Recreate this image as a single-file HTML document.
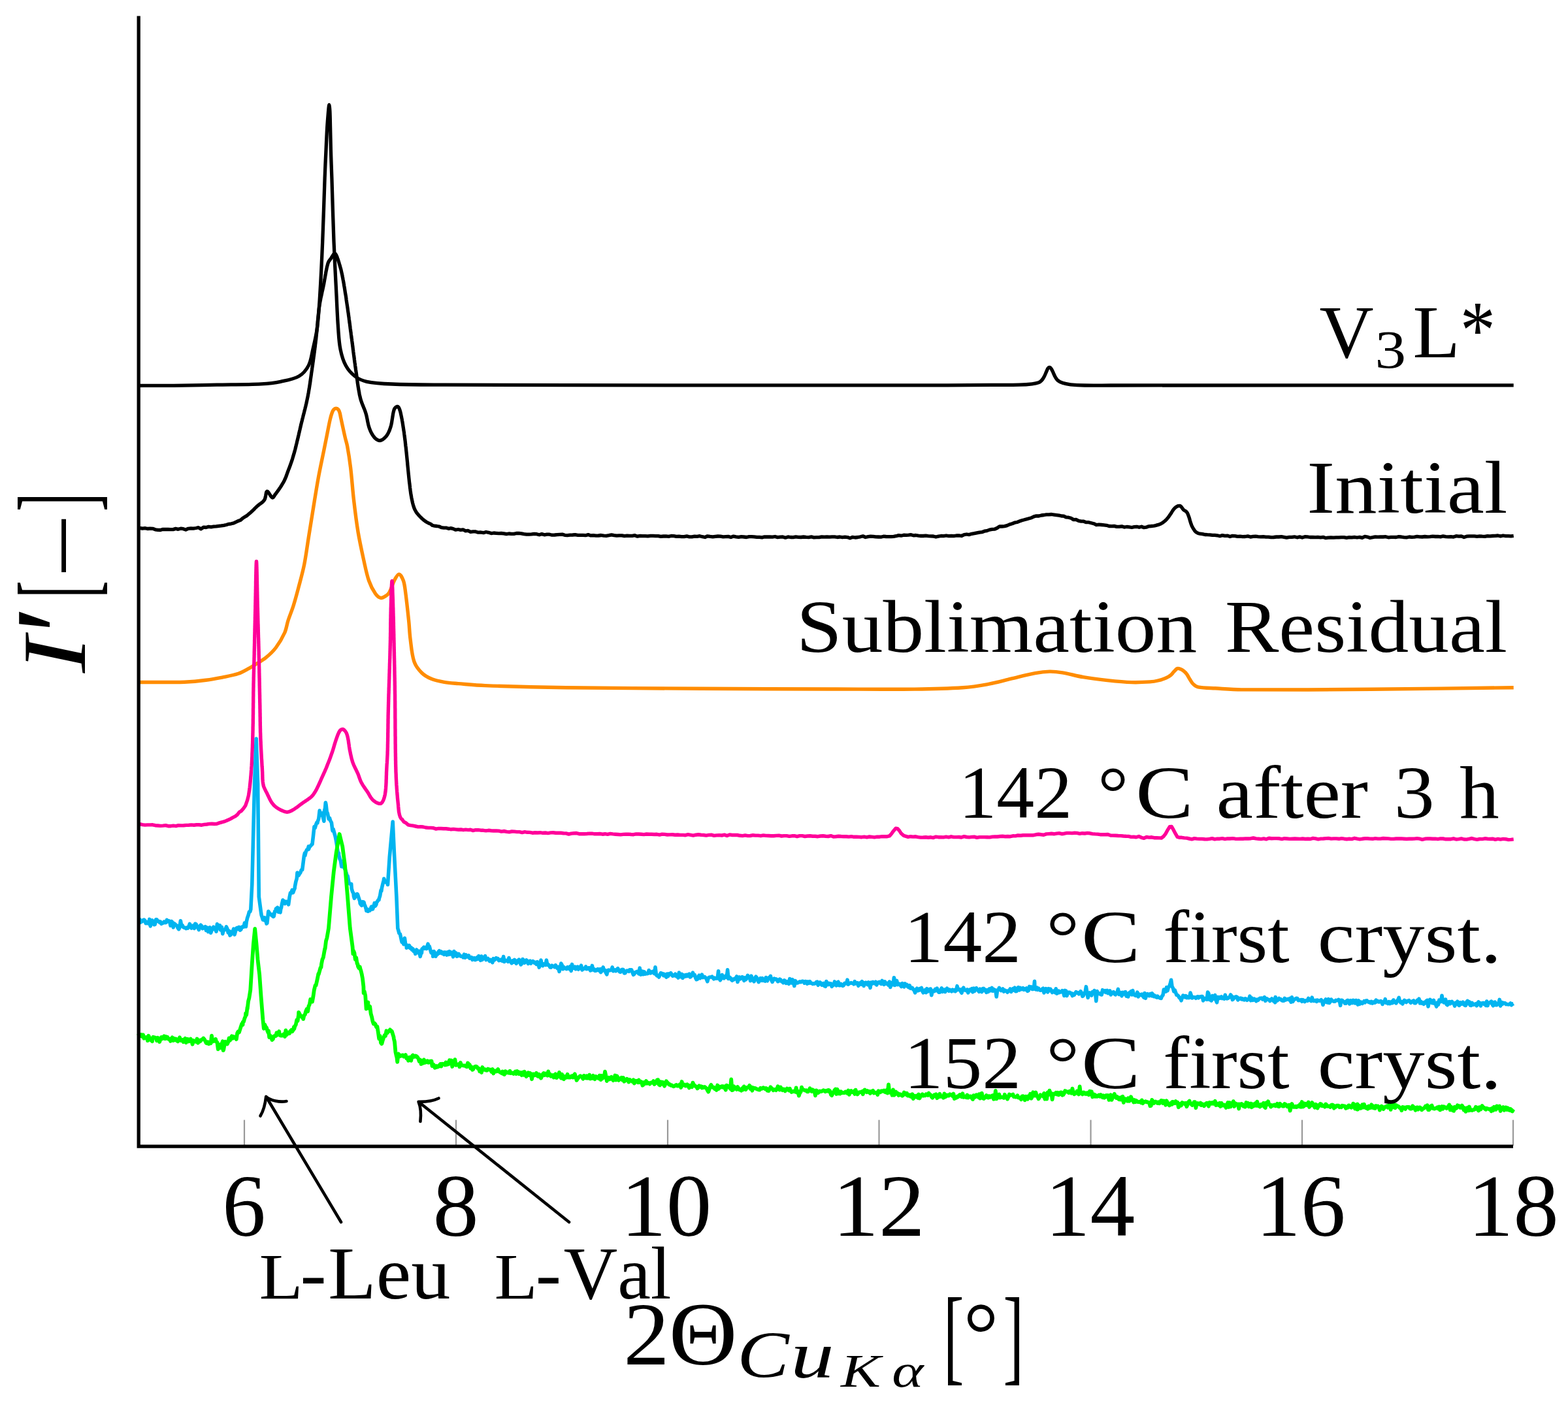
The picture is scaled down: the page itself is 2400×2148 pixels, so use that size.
<!DOCTYPE html>
<html><head><meta charset="utf-8"><title>XRD patterns</title><style>html,body{margin:0;padding:0;background:#fff;overflow:hidden;}svg{display:block;filter:blur(0.6px);}text{font-kerning:none;}</style></head><body>
<svg width="2400" height="2148" viewBox="0 0 2400 2148">
<rect width="2400" height="2148" fill="#fff"/>
<line x1="374.0" y1="1714.6" x2="374.0" y2="1754" stroke="#999" stroke-width="2.2"/>
<line x1="698.0" y1="1714.6" x2="698.0" y2="1754" stroke="#999" stroke-width="2.2"/>
<line x1="1022.0" y1="1714.6" x2="1022.0" y2="1754" stroke="#999" stroke-width="2.2"/>
<line x1="1345.5" y1="1714.6" x2="1345.5" y2="1754" stroke="#999" stroke-width="2.2"/>
<line x1="1669.5" y1="1714.6" x2="1669.5" y2="1754" stroke="#999" stroke-width="2.2"/>
<line x1="1993.0" y1="1714.6" x2="1993.0" y2="1754" stroke="#999" stroke-width="2.2"/>
<line x1="2316.0" y1="1714.6" x2="2316.0" y2="1754" stroke="#999" stroke-width="2.2"/>
<path d="M212.0,590.3 C230.0,590.3 248.0,590.5 266.0,590.3 C288.0,590.1 310.0,589.5 332.0,589.1 C354.7,588.7 377.4,588.9 400.0,587.8 C409.8,587.3 419.8,586.3 429.4,584.3 C438.9,582.3 449.3,580.7 457.5,576.0 C463.6,572.5 469.0,566.0 472.3,559.6 C476.1,552.2 477.0,543.1 478.9,534.8 C481.4,523.9 484.1,513.0 485.5,501.9 C487.6,485.5 488.6,468.9 489.6,452.4 C491.3,425.0 492.6,397.5 493.7,370.0 C495.1,337.7 495.9,305.3 497.1,273.0 C497.6,258.7 498.3,244.3 499.0,230.0 C499.5,218.3 500.0,206.7 500.7,195.0 C501.2,186.7 501.9,178.3 502.6,170.0 C502.9,166.8 503.4,160.5 503.8,160.5 C504.2,160.5 504.7,166.8 504.9,170.0 C505.3,178.3 505.4,186.7 505.6,195.0 C505.9,206.7 506.1,218.3 506.4,230.0 C506.8,244.3 507.4,258.7 507.9,273.0 C509.0,305.3 509.7,337.7 511.0,370.0 C512.1,397.5 513.6,424.9 515.0,452.4 C515.8,468.9 516.4,485.4 517.6,501.9 C518.4,512.9 518.8,524.1 521.0,534.8 C522.7,543.3 525.1,552.1 529.2,559.6 C532.5,565.8 537.6,571.7 543.2,576.0 C548.3,580.0 554.9,582.9 561.3,584.3 C573.8,586.9 587.1,587.5 600.0,588.0 C626.6,589.1 653.3,589.0 680.0,589.2 C742.0,589.6 804.0,589.7 866.0,589.7 C1060.7,589.9 1255.3,589.9 1450.0,589.8 C1480.0,589.8 1510.0,589.5 1540.0,589.3 C1546.7,589.3 1553.3,589.5 1560.0,589.2 C1566.6,589.0 1573.2,588.6 1579.7,587.8 C1583.0,587.4 1586.4,586.9 1589.5,585.8 C1591.3,585.1 1593.1,583.8 1594.4,582.4 C1596.0,580.7 1597.2,578.6 1598.3,576.5 C1599.7,574.0 1600.6,571.2 1601.8,568.6 C1602.6,566.9 1603.1,565.1 1604.2,563.7 C1604.7,563.0 1605.8,562.3 1606.5,562.4 C1607.5,562.6 1608.5,563.7 1609.2,564.7 C1610.4,566.5 1611.2,568.6 1612.1,570.6 C1613.1,572.7 1613.9,575.0 1615.1,577.0 C1616.2,578.9 1617.3,581.0 1619.0,582.4 C1621.1,584.1 1623.8,585.4 1626.4,586.3 C1630.3,587.6 1634.6,588.3 1638.7,588.8 C1645.8,589.6 1652.9,589.9 1660.0,590.0 C1673.3,590.3 1686.7,590.0 1700.0,590.0 C1905.6,589.9 2111.1,589.9 2316.7,589.8" fill="none" stroke="#000" stroke-width="5.3" stroke-linejoin="round"/>
<path d="M212.0,808.8 L214.0,808.3 L217.9,809.2 L221.9,808.7 L225.8,809.5 L229.8,809.1 L233.7,809.3 L237.7,810.8 L241.6,811.3 L245.6,811.5 L249.5,810.3 L253.4,810.5 L257.2,810.5 L261.1,810.7 L265.0,810.6 L268.9,809.4 L272.7,810.3 L276.6,809.2 L280.5,809.7 L284.3,811.0 L288.2,809.3 L292.1,808.9 L296.0,809.1 L299.9,808.5 L303.8,807.7 L307.6,809.9 L311.5,807.2 L315.4,807.5 L319.3,806.4 L323.2,806.9 L327.1,806.2 L331.0,805.9 L334.9,805.3 L338.8,804.9 L342.6,804.3 L346.5,803.5 L350.3,802.3 L354.0,801.8 L357.7,800.9 L361.4,799.1 L364.9,797.5 L368.3,796.2 L371.7,793.2 L374.9,791.3 L378.1,789.4 L381.0,786.8 L382.5,785.6 L383.9,784.4 L385.2,783.1 L386.6,781.9 L387.9,780.6 L389.3,779.3 L390.5,777.9 L391.9,776.6 L393.2,775.3 L394.7,774.1 L396.2,772.9 L397.8,771.7 L399.3,770.6 L400.9,769.4 L402.3,768.2 L403.6,766.8 L404.7,765.4 L405.6,763.5 L406.2,761.3 L406.7,758.8 L407.1,756.5 L407.5,754.4 L408.0,752.9 L408.8,752.2 L409.7,752.5 L410.8,753.7 L412.0,755.5 L413.2,757.5 L414.5,759.5 L415.8,761.1 L417.0,762.0 L418.1,761.7 L419.1,760.4 L420.2,758.6 L421.2,757.0 L422.3,755.6 L423.3,754.2 L424.4,752.8 L425.4,751.4 L426.4,750.0 L427.4,748.5 L428.4,747.1 L429.4,745.6 L430.4,744.0 L431.4,742.4 L432.4,740.7 L433.4,739.1 L434.3,737.4 L435.2,735.7 L436.0,734.0 L436.7,732.4 L437.4,730.8 L438.0,729.2 L438.6,727.5 L439.2,725.9 L439.8,724.2 L440.4,722.5 L441.0,720.9 L441.6,719.3 L442.3,717.6 L442.9,716.0 L443.5,714.3 L444.1,712.7 L444.7,711.0 L445.3,709.4 L445.9,707.7 L446.5,705.9 L447.1,704.1 L447.7,702.2 L448.2,700.4 L448.8,698.6 L449.3,696.7 L449.9,694.9 L450.4,693.0 L450.9,691.2 L451.4,689.4 L451.9,687.6 L452.3,685.8 L452.8,684.0 L453.2,682.2 L453.6,680.4 L454.1,678.6 L454.5,676.8 L454.9,675.0 L455.4,673.2 L455.8,671.4 L456.3,669.5 L456.7,667.5 L457.2,665.6 L457.6,663.6 L458.1,661.7 L458.5,659.7 L459.0,657.8 L459.4,655.8 L459.9,653.9 L460.3,651.9 L460.8,650.0 L461.2,648.1 L461.7,646.3 L462.2,644.4 L462.6,642.6 L463.1,640.7 L463.6,638.8 L464.0,637.0 L464.5,635.1 L465.0,633.3 L465.5,631.4 L465.9,629.5 L466.4,627.7 L466.9,625.8 L467.3,624.0 L467.8,622.1 L468.2,620.2 L468.7,618.4 L469.1,616.5 L469.5,614.6 L469.9,612.8 L470.3,610.9 L470.7,609.0 L471.1,607.1 L471.5,605.1 L471.8,603.2 L472.2,601.2 L472.5,599.2 L472.8,597.3 L473.2,595.3 L473.5,593.4 L473.8,591.4 L474.1,589.4 L474.4,587.5 L474.7,585.5 L475.0,583.5 L475.2,581.6 L475.5,579.6 L475.8,577.6 L476.1,575.7 L476.4,573.7 L476.6,571.7 L476.9,569.8 L477.2,567.8 L477.5,565.9 L477.7,564.0 L478.0,562.1 L478.3,560.1 L478.6,558.2 L478.8,556.3 L479.1,554.4 L479.4,552.5 L479.6,550.6 L479.9,548.7 L480.1,546.8 L480.4,544.8 L480.7,542.9 L480.9,541.0 L481.2,539.1 L481.4,537.2 L481.7,535.3 L481.9,533.3 L482.2,531.4 L482.4,529.5 L482.6,527.6 L482.9,525.7 L483.1,523.8 L483.3,521.8 L483.6,519.9 L483.8,518.0 L484.0,516.0 L484.2,514.1 L484.4,512.1 L484.6,510.2 L484.8,508.2 L485.0,506.2 L485.2,504.3 L485.4,502.3 L485.6,500.3 L485.7,498.4 L485.9,496.4 L486.1,494.5 L486.2,492.5 L486.4,490.5 L486.6,488.6 L486.8,486.6 L487.0,484.6 L487.2,482.7 L487.4,480.7 L487.6,478.8 L487.8,476.8 L488.0,474.9 L488.3,472.9 L488.5,470.9 L488.8,469.0 L489.1,467.0 L489.4,465.1 L489.7,463.1 L490.1,461.2 L490.5,459.3 L490.8,457.3 L491.2,455.4 L491.7,453.4 L492.1,451.5 L492.5,449.6 L492.9,447.6 L493.3,445.7 L493.8,443.8 L494.2,441.8 L494.6,439.9 L495.0,437.9 L495.4,436.0 L495.8,434.1 L496.1,432.1 L496.5,430.2 L496.8,428.2 L497.2,426.2 L497.5,424.3 L497.9,422.3 L498.2,420.4 L498.6,418.4 L498.9,416.4 L499.3,414.5 L499.7,412.6 L500.1,410.6 L500.5,408.7 L501.0,406.8 L501.5,404.9 L502.0,403.0 L502.7,401.3 L503.6,399.6 L504.7,398.1 L505.9,396.5 L507.0,395.0 L508.1,393.2 L509.4,391.1 L510.6,389.3 L511.7,388.0 L512.7,388.0 L513.6,388.9 L514.4,390.2 L515.2,391.8 L516.0,393.6 L516.7,395.6 L517.5,397.7 L518.1,399.9 L518.8,402.0 L519.4,404.1 L520.0,406.0 L520.5,407.8 L521.0,409.6 L521.5,411.3 L522.0,413.1 L522.4,415.0 L522.8,416.8 L523.2,418.6 L523.6,420.4 L524.0,422.2 L524.3,424.0 L524.7,425.9 L525.0,427.7 L525.4,429.7 L525.7,431.6 L526.1,433.6 L526.4,435.5 L526.7,437.5 L527.1,439.5 L527.4,441.4 L527.7,443.4 L528.0,445.4 L528.3,447.3 L528.6,449.3 L529.0,451.3 L529.3,453.2 L529.6,455.2 L529.9,457.2 L530.1,459.1 L530.4,461.1 L530.7,463.1 L531.0,465.1 L531.3,467.0 L531.6,469.0 L531.9,471.0 L532.2,472.9 L532.4,474.9 L532.7,476.8 L533.0,478.8 L533.3,480.7 L533.5,482.7 L533.8,484.7 L534.1,486.6 L534.3,488.6 L534.6,490.5 L534.8,492.5 L535.1,494.5 L535.4,496.4 L535.6,498.4 L535.9,500.4 L536.1,502.3 L536.4,504.3 L536.6,506.2 L536.9,508.2 L537.2,510.2 L537.4,512.1 L537.7,514.1 L537.9,516.0 L538.2,518.0 L538.5,519.9 L538.7,521.8 L539.0,523.7 L539.2,525.7 L539.5,527.6 L539.7,529.5 L540.0,531.4 L540.2,533.3 L540.4,535.2 L540.7,537.2 L540.9,539.1 L541.2,541.0 L541.4,542.9 L541.7,544.8 L541.9,546.7 L542.2,548.7 L542.4,550.6 L542.7,552.5 L542.9,554.4 L543.2,556.3 L543.5,558.2 L543.7,560.1 L544.0,562.1 L544.3,564.0 L544.5,565.9 L544.8,567.8 L545.1,569.8 L545.4,571.7 L545.6,573.7 L545.9,575.7 L546.2,577.7 L546.4,579.6 L546.7,581.6 L547.0,583.6 L547.2,585.5 L547.5,587.5 L547.8,589.5 L548.1,591.5 L548.4,593.4 L548.7,595.4 L549.1,597.3 L549.4,599.3 L549.8,601.2 L550.1,603.2 L550.5,605.1 L551.0,607.1 L551.4,609.0 L551.9,610.9 L552.4,612.8 L553.1,614.6 L553.7,616.5 L554.4,618.3 L555.1,620.1 L555.9,622.0 L556.6,623.8 L557.4,625.6 L558.1,627.4 L558.8,629.3 L559.4,631.1 L560.0,633.0 L560.5,634.8 L561.0,636.7 L561.4,638.6 L561.8,640.5 L562.2,642.4 L562.5,644.3 L562.9,646.2 L563.3,648.0 L563.7,649.9 L564.2,651.8 L564.7,653.6 L565.3,655.4 L565.9,657.1 L566.6,658.8 L567.4,660.6 L568.2,662.2 L569.1,663.9 L570.0,665.5 L571.0,667.0 L572.1,668.5 L573.2,669.9 L574.6,671.3 L576.3,672.7 L578.2,673.7 L580.1,674.4 L581.8,674.5 L583.3,674.1 L584.8,673.4 L586.3,672.5 L587.8,671.3 L589.2,670.0 L590.5,668.7 L591.6,667.3 L592.6,665.9 L593.5,664.4 L594.4,662.8 L595.1,661.2 L595.9,659.5 L596.5,657.8 L597.1,656.1 L597.7,654.4 L598.2,652.7 L598.7,650.9 L599.1,649.0 L599.5,647.1 L599.8,645.2 L600.1,643.2 L600.4,641.3 L600.7,639.4 L601.0,637.5 L601.3,635.6 L601.6,633.7 L602.0,631.8 L602.4,630.0 L602.9,628.2 L603.5,626.4 L604.4,624.9 L605.9,623.4 L607.5,622.5 L608.8,622.4 L609.8,623.2 L610.7,624.7 L611.5,626.5 L612.2,628.5 L612.7,630.3 L613.2,632.2 L613.6,634.1 L614.0,636.0 L614.4,637.9 L614.8,639.9 L615.2,641.8 L615.5,643.7 L615.9,645.7 L616.2,647.6 L616.5,649.6 L616.8,651.5 L617.1,653.5 L617.4,655.4 L617.7,657.4 L618.0,659.3 L618.3,661.2 L618.6,663.2 L618.8,665.1 L619.1,667.0 L619.3,669.0 L619.6,670.9 L619.8,672.9 L620.1,674.8 L620.3,676.7 L620.5,678.7 L620.7,680.6 L620.9,682.6 L621.2,684.5 L621.4,686.5 L621.6,688.4 L621.8,690.4 L622.0,692.3 L622.2,694.3 L622.4,696.3 L622.6,698.2 L622.8,700.2 L623.0,702.2 L623.2,704.2 L623.4,706.2 L623.6,708.1 L623.7,710.1 L623.9,712.1 L624.1,714.1 L624.3,716.1 L624.5,718.0 L624.7,720.0 L624.9,722.0 L625.1,724.0 L625.3,726.0 L625.5,727.9 L625.7,729.9 L625.9,731.9 L626.1,733.8 L626.3,735.7 L626.5,737.6 L626.7,739.5 L627.0,741.4 L627.2,743.3 L627.4,745.2 L627.6,747.1 L627.9,749.0 L628.1,750.9 L628.4,752.8 L628.6,754.7 L628.9,756.6 L629.2,758.4 L629.6,760.3 L629.9,762.2 L630.3,764.1 L630.7,766.0 L631.1,767.9 L631.5,769.8 L632.0,771.7 L632.5,773.5 L633.1,775.4 L633.7,777.2 L634.4,779.0 L635.2,780.7 L636.1,782.3 L637.0,783.9 L638.1,785.5 L639.3,786.9 L640.5,788.4 L641.8,789.8 L643.1,791.2 L644.4,792.5 L645.8,793.8 L647.2,795.1 L648.6,796.3 L650.2,797.4 L651.7,798.5 L653.3,799.5 L655.0,800.4 L656.6,801.2 L658.3,801.9 L659.9,802.6 L661.6,804.3 L665.1,805.2 L668.6,805.5 L672.1,806.0 L675.6,807.7 L679.2,808.2 L682.8,808.1 L686.5,809.3 L690.1,808.6 L693.8,809.6 L697.5,811.2 L701.3,810.5 L705.0,811.4 L708.8,810.9 L712.6,812.8 L716.3,812.4 L720.2,814.3 L724.1,813.9 L728.1,813.9 L732.0,815.2 L736.0,815.0 L740.0,815.7 L743.9,814.5 L747.9,815.3 L751.9,816.6 L755.8,816.0 L759.7,816.3 L763.5,816.6 L767.4,816.5 L771.2,816.8 L775.1,817.7 L778.9,817.0 L782.7,817.4 L786.6,817.4 L790.4,816.5 L794.2,816.4 L798.1,816.8 L802.0,817.7 L805.9,818.2 L809.8,818.1 L813.7,817.9 L817.6,817.3 L821.5,817.7 L825.4,818.8 L829.3,817.6 L833.2,818.8 L837.2,818.2 L841.1,818.2 L845.0,819.2 L848.9,819.0 L852.8,818.7 L856.7,818.4 L860.6,818.1 L864.5,819.3 L868.5,819.6 L872.5,819.2 L876.4,819.0 L880.4,818.7 L884.4,819.3 L888.3,819.4 L892.3,819.4 L896.3,819.7 L900.3,818.6 L904.2,819.9 L908.2,819.7 L912.2,820.1 L916.1,820.0 L920.1,819.5 L924.1,820.2 L928.1,820.3 L932.0,819.7 L936.0,818.9 L940.0,819.7 L943.9,820.2 L947.9,819.8 L951.9,819.8 L955.8,820.7 L959.8,820.1 L963.8,820.4 L967.8,820.3 L971.7,819.7 L975.7,821.2 L979.7,820.4 L983.6,820.6 L987.6,820.7 L991.6,820.8 L995.6,820.3 L999.5,820.3 L1003.5,820.7 L1007.5,820.6 L1011.4,821.4 L1015.4,821.0 L1019.4,820.9 L1023.4,821.4 L1027.3,820.5 L1031.3,820.6 L1035.3,821.3 L1039.2,821.1 L1043.2,821.6 L1047.2,821.6 L1051.2,820.9 L1055.1,821.8 L1059.1,821.9 L1063.1,821.2 L1067.0,821.3 L1071.0,820.7 L1075.0,821.7 L1079.0,822.5 L1082.9,820.8 L1086.9,821.4 L1090.9,821.9 L1094.9,821.3 L1098.8,821.0 L1102.8,821.1 L1106.8,821.8 L1110.7,821.6 L1114.7,821.4 L1118.7,822.5 L1122.7,821.1 L1126.6,821.8 L1130.6,822.4 L1134.6,821.7 L1138.6,822.0 L1142.5,822.5 L1146.5,821.6 L1150.5,821.6 L1154.4,821.8 L1158.4,822.4 L1162.4,822.3 L1166.4,822.9 L1170.3,821.8 L1174.3,822.0 L1178.3,822.0 L1182.3,822.1 L1186.2,821.5 L1190.2,822.6 L1194.2,822.1 L1198.2,822.0 L1202.1,823.2 L1206.1,821.9 L1210.1,822.5 L1214.0,822.6 L1218.0,821.8 L1222.0,822.3 L1226.0,822.5 L1229.9,822.0 L1233.9,822.4 L1237.9,822.6 L1241.9,821.9 L1245.8,822.8 L1249.8,822.7 L1253.8,822.7 L1257.7,821.8 L1261.7,822.2 L1265.7,822.0 L1269.7,822.2 L1273.6,821.9 L1277.6,821.9 L1281.6,822.5 L1285.5,822.0 L1289.4,822.6 L1293.3,822.1 L1297.3,822.6 L1301.2,823.9 L1305.1,822.3 L1309.0,823.0 L1313.0,822.5 L1316.9,821.8 L1320.8,820.8 L1324.7,822.5 L1328.7,821.7 L1332.6,821.2 L1336.5,821.3 L1340.4,821.9 L1344.4,822.0 L1348.3,822.2 L1352.2,821.2 L1356.1,821.5 L1360.0,821.7 L1363.9,821.7 L1367.8,821.3 L1371.6,820.7 L1375.5,819.6 L1379.3,820.2 L1383.2,819.2 L1387.0,819.3 L1390.7,819.1 L1394.4,818.7 L1398.1,819.8 L1401.9,819.5 L1405.7,820.1 L1409.5,820.5 L1413.2,820.5 L1417.0,820.1 L1420.8,820.6 L1424.6,820.8 L1428.5,821.0 L1432.5,822.0 L1436.4,821.2 L1440.3,820.5 L1444.3,820.6 L1448.2,820.0 L1452.1,820.6 L1456.1,820.3 L1460.0,820.7 L1463.9,820.0 L1467.8,819.8 L1471.7,820.5 L1475.7,818.7 L1479.6,818.0 L1483.5,818.6 L1487.4,817.3 L1491.3,816.7 L1495.2,815.9 L1499.0,815.1 L1502.9,814.7 L1506.8,813.2 L1510.6,812.6 L1514.5,811.1 L1518.4,810.4 L1522.2,810.2 L1526.1,808.5 L1529.9,805.9 L1533.8,806.0 L1537.6,805.6 L1541.5,804.6 L1545.3,802.9 L1549.2,801.8 L1553.0,800.2 L1556.8,799.5 L1560.5,798.1 L1564.1,796.7 L1567.8,795.8 L1571.5,794.7 L1575.1,793.7 L1578.8,792.7 L1582.5,790.9 L1586.3,789.8 L1590.1,790.0 L1593.9,789.0 L1597.8,788.5 L1601.6,787.8 L1605.5,787.8 L1609.4,787.5 L1613.4,788.1 L1617.3,788.6 L1621.2,789.2 L1624.7,790.0 L1628.2,790.1 L1631.7,791.9 L1635.4,792.2 L1639.3,793.3 L1643.2,795.6 L1647.1,795.5 L1650.9,797.3 L1654.8,798.1 L1658.7,798.2 L1662.6,799.7 L1666.5,799.7 L1670.4,800.7 L1674.3,801.7 L1678.1,803.6 L1682.0,803.1 L1685.9,803.5 L1689.8,803.9 L1693.7,804.3 L1697.6,805.5 L1701.5,805.7 L1705.4,805.4 L1709.2,806.4 L1713.1,806.4 L1716.9,805.8 L1720.7,807.1 L1724.6,806.5 L1728.5,806.9 L1732.3,807.5 L1736.2,806.6 L1740.0,806.3 L1743.6,807.3 L1747.3,806.2 L1750.9,807.7 L1754.6,807.2 L1758.2,805.8 L1761.9,805.5 L1765.6,805.1 L1767.5,804.8 L1769.3,804.4 L1771.1,803.9 L1772.9,803.4 L1774.7,802.8 L1776.3,802.1 L1777.8,801.3 L1779.3,800.4 L1780.7,799.3 L1782.1,798.3 L1783.4,797.2 L1784.7,796.0 L1785.9,794.7 L1787.0,793.4 L1788.1,792.1 L1789.1,790.7 L1790.1,789.3 L1791.0,787.9 L1792.0,786.5 L1793.0,785.0 L1793.9,783.5 L1794.8,782.0 L1795.8,780.6 L1796.9,779.2 L1798.0,778.0 L1799.2,776.9 L1800.5,776.0 L1801.8,775.2 L1803.4,774.6 L1805.2,774.4 L1806.7,774.7 L1808.0,775.8 L1809.2,777.4 L1810.3,779.1 L1811.6,780.6 L1812.8,781.5 L1814.2,782.3 L1815.5,783.1 L1816.5,784.1 L1817.4,785.5 L1818.2,787.1 L1818.8,788.7 L1819.4,790.4 L1820.0,792.0 L1820.5,793.6 L1821.0,795.3 L1821.4,796.9 L1821.9,798.6 L1822.4,800.2 L1822.9,801.8 L1823.5,803.3 L1824.1,804.8 L1824.8,806.3 L1825.6,807.8 L1826.4,809.2 L1827.5,810.8 L1828.6,812.4 L1829.9,813.9 L1831.3,815.1 L1833.0,816.0 L1834.8,816.7 L1836.8,817.2 L1840.6,817.6 L1844.3,818.5 L1848.1,818.7 L1851.9,818.8 L1855.7,819.4 L1859.5,819.3 L1863.3,819.8 L1867.1,820.8 L1871.0,819.6 L1874.8,820.4 L1878.7,820.1 L1882.6,821.5 L1886.4,820.4 L1890.3,820.6 L1894.2,821.3 L1898.1,821.2 L1902.0,821.7 L1905.9,821.5 L1909.9,820.8 L1913.9,822.1 L1917.8,821.3 L1921.8,821.1 L1925.7,821.6 L1929.7,821.9 L1933.7,821.7 L1937.6,822.1 L1941.6,822.1 L1945.5,822.7 L1949.5,822.5 L1953.5,822.0 L1957.4,822.0 L1961.4,821.6 L1965.3,822.3 L1969.3,823.1 L1973.3,822.3 L1977.3,822.3 L1981.3,821.8 L1985.3,822.8 L1989.3,821.9 L1993.2,823.0 L1997.2,821.7 L2001.2,821.9 L2005.2,822.5 L2009.2,822.4 L2013.2,822.7 L2017.2,822.4 L2021.2,822.8 L2025.2,822.3 L2029.2,823.7 L2033.2,823.1 L2037.1,823.0 L2041.1,823.1 L2045.1,822.8 L2049.1,822.8 L2053.1,822.6 L2057.1,822.6 L2061.1,823.3 L2065.1,822.7 L2069.1,822.9 L2073.1,822.3 L2077.1,823.0 L2081.0,822.4 L2085.0,823.4 L2089.0,821.4 L2093.0,822.1 L2097.0,823.5 L2101.0,822.7 L2105.0,821.8 L2109.0,822.2 L2113.0,821.9 L2117.0,822.0 L2121.0,821.7 L2125.0,822.8 L2129.0,822.3 L2133.0,822.4 L2136.9,822.5 L2140.9,821.7 L2144.9,822.0 L2148.9,822.6 L2152.9,822.8 L2156.9,822.0 L2160.9,822.3 L2164.9,822.1 L2168.9,821.4 L2172.9,821.9 L2176.9,822.0 L2180.9,821.5 L2184.9,821.9 L2188.9,821.6 L2192.9,821.1 L2196.9,821.5 L2200.9,821.4 L2204.9,821.9 L2208.8,820.8 L2212.8,821.6 L2216.8,821.8 L2220.8,821.6 L2224.8,822.1 L2228.8,820.7 L2232.8,821.2 L2236.8,820.9 L2240.8,822.5 L2244.8,821.2 L2248.8,820.8 L2252.8,820.8 L2256.8,820.9 L2260.8,821.3 L2264.8,820.9 L2268.8,821.2 L2272.8,821.4 L2276.8,820.6 L2280.7,820.8 L2284.7,820.5 L2288.7,820.4 L2292.7,820.0 L2296.7,820.9 L2300.7,820.0 L2304.7,820.6 L2308.7,820.7 L2312.7,820.9 L2316.7,820.4" fill="none" stroke="#000" stroke-width="5.3" stroke-linejoin="round"/>
<path d="M212.0,1044.5 C224.5,1044.5 237.0,1044.5 249.5,1044.5 C260.5,1044.5 271.5,1044.8 282.4,1044.3 C293.4,1043.7 304.4,1042.6 315.4,1041.2 C323.7,1040.2 331.9,1038.7 340.1,1037.1 C348.4,1035.4 356.9,1034.0 364.9,1031.3 C370.7,1029.3 376.0,1026.0 381.4,1023.1 C384.2,1021.6 386.9,1019.8 389.6,1018.1 C395.4,1014.4 401.6,1011.2 406.9,1006.9 C412.5,1002.3 418.0,997.3 422.3,991.5 C427.6,984.5 432.2,976.5 435.8,968.5 C438.4,962.7 439.0,956.1 441.0,950.0 C443.5,942.3 446.8,934.8 449.2,927.0 C452.3,917.2 454.9,907.2 457.5,897.3 C460.4,886.3 463.5,875.4 465.7,864.3 C468.4,850.6 470.1,836.8 472.3,823.0 C474.5,809.3 476.7,795.6 478.9,781.9 C481.6,765.4 484.1,748.9 487.1,732.4 C489.6,718.6 492.6,704.9 495.4,691.2 C497.0,683.0 498.7,674.9 500.3,666.7 C502.0,658.5 503.4,650.2 505.3,642.0 C506.1,638.6 507.0,635.3 508.2,632.0 C508.8,630.3 509.5,628.5 510.6,627.2 C511.5,626.2 513.1,625.3 514.3,625.3 C515.5,625.3 517.2,626.2 518.0,627.2 C519.1,628.6 519.7,630.7 520.2,632.5 C520.9,635.0 521.2,637.7 521.8,640.3 C523.9,650.2 526.0,660.1 528.3,670.0 C529.3,674.4 530.8,678.6 531.6,683.0 C533.6,693.9 535.3,705.0 536.6,716.0 C538.6,732.4 539.6,749.0 541.5,765.4 C543.4,781.9 545.4,798.4 548.1,814.8 C550.4,828.6 553.4,842.3 556.4,856.0 C558.9,867.1 560.9,878.3 564.6,889.0 C567.0,895.9 570.4,902.8 574.5,908.8 C576.4,911.6 579.7,914.8 582.7,915.4 C585.2,915.9 588.5,913.6 591.0,912.0 C592.9,910.8 594.8,909.0 595.9,907.0 C599.2,900.8 600.9,893.6 604.2,887.4 C605.9,884.3 608.7,878.8 610.8,879.1 C613.1,879.4 616.1,885.3 617.4,889.0 C619.4,894.6 619.9,901.0 620.7,907.0 C622.6,921.3 624.1,935.7 625.6,950.0 C626.6,959.3 626.8,968.7 628.0,978.0 C629.5,989.6 630.2,1001.8 633.8,1012.7 C636.0,1019.1 640.6,1025.2 645.4,1030.0 C649.6,1034.2 655.3,1037.3 660.8,1039.6 C666.8,1042.1 673.5,1043.3 680.0,1044.4 C687.0,1045.6 694.2,1046.0 701.3,1046.6 C715.1,1047.7 728.8,1049.1 742.6,1049.6 C783.9,1051.1 825.2,1052.1 866.5,1052.7 C935.3,1053.7 1004.2,1053.8 1073.0,1054.2 C1141.9,1054.6 1210.7,1054.8 1279.6,1055.0 C1319.7,1055.1 1359.9,1055.6 1400.0,1055.1 C1424.6,1054.8 1449.2,1054.3 1473.7,1052.7 C1486.1,1051.9 1498.4,1050.0 1510.6,1047.8 C1523.0,1045.5 1535.2,1042.1 1547.5,1039.2 C1559.8,1036.3 1572.0,1032.9 1584.4,1030.6 C1591.7,1029.2 1599.1,1028.2 1606.5,1028.1 C1613.1,1028.0 1619.7,1028.7 1626.2,1029.8 C1636.9,1031.6 1647.4,1034.9 1658.1,1036.7 C1670.3,1038.8 1682.7,1040.3 1695.0,1041.6 C1707.3,1042.9 1719.6,1044.2 1731.9,1044.6 C1741.3,1044.9 1750.7,1044.5 1760.0,1043.9 C1764.1,1043.6 1768.3,1043.0 1772.3,1042.0 C1776.5,1041.0 1780.7,1039.7 1784.6,1038.0 C1787.2,1036.9 1789.8,1035.4 1792.0,1033.6 C1793.9,1032.1 1795.2,1029.9 1796.9,1028.2 C1798.5,1026.6 1799.9,1024.3 1801.8,1023.6 C1803.2,1023.0 1805.2,1023.7 1806.7,1024.3 C1808.4,1024.9 1810.1,1026.0 1811.6,1027.2 C1813.4,1028.6 1815.1,1030.3 1816.5,1032.1 C1818.4,1034.7 1819.7,1037.8 1821.5,1040.5 C1823.0,1042.9 1824.4,1045.5 1826.4,1047.4 C1828.4,1049.3 1831.0,1051.3 1833.7,1051.8 C1842.2,1053.4 1851.2,1053.3 1860.0,1053.8 C1873.3,1054.6 1886.7,1055.8 1900.0,1055.9 C1966.3,1056.3 2032.7,1055.8 2099.0,1055.3 C2171.6,1054.7 2244.1,1053.6 2316.7,1052.7" fill="none" stroke="#ff8c00" stroke-width="5.4" stroke-linejoin="round"/>
<path d="M212.0,1262.2 L214.0,1261.7 L217.9,1262.6 L221.9,1263.1 L225.8,1262.9 L229.8,1262.9 L233.7,1262.8 L237.7,1263.7 L241.6,1264.0 L245.6,1264.4 L249.5,1264.1 L253.5,1263.6 L257.4,1264.7 L261.4,1264.7 L265.3,1264.1 L269.3,1264.7 L273.2,1263.6 L277.2,1263.9 L281.1,1263.8 L285.1,1263.4 L289.0,1263.2 L293.0,1262.9 L296.9,1263.3 L300.8,1262.8 L304.7,1262.8 L308.7,1263.2 L312.6,1262.4 L316.5,1262.0 L320.3,1261.4 L324.2,1261.2 L328.1,1261.5 L331.9,1261.2 L335.6,1259.9 L339.3,1258.8 L342.9,1257.9 L346.5,1256.5 L350.0,1255.0 L353.5,1253.4 L356.9,1251.3 L360.3,1249.6 L363.4,1247.1 L366.3,1243.4 L369.0,1241.9 L372.7,1237.7 L375.8,1233.2 L378.7,1224.9 L380.1,1219.1 L380.5,1217.2 L380.8,1215.3 L381.1,1213.4 L381.4,1211.5 L381.7,1209.5 L381.9,1207.6 L382.2,1205.6 L382.4,1203.7 L382.6,1201.8 L382.8,1199.8 L383.0,1197.9 L383.2,1196.0 L383.4,1194.0 L383.6,1192.1 L383.7,1190.2 L383.9,1188.2 L384.1,1186.3 L384.2,1184.3 L384.4,1182.4 L384.5,1180.4 L384.7,1178.5 L384.8,1176.6 L384.9,1174.6 L385.1,1172.7 L385.2,1170.7 L385.3,1168.8 L385.4,1166.8 L385.5,1164.9 L385.6,1162.9 L385.7,1160.9 L385.8,1159.0 L385.9,1157.0 L385.9,1155.0 L386.0,1153.0 L386.1,1151.0 L386.2,1149.1 L386.2,1147.1 L386.3,1145.1 L386.4,1143.1 L386.4,1141.1 L386.5,1139.2 L386.6,1137.2 L386.6,1135.2 L386.7,1133.2 L386.7,1131.2 L386.8,1129.3 L386.8,1127.3 L386.9,1125.3 L386.9,1123.3 L387.0,1121.3 L387.0,1119.4 L387.1,1117.4 L387.1,1115.4 L387.1,1113.4 L387.2,1111.4 L387.2,1109.4 L387.3,1107.4 L387.3,1105.4 L387.3,1103.4 L387.3,1101.4 L387.4,1099.4 L387.4,1097.4 L387.4,1095.4 L387.5,1093.4 L387.5,1091.4 L387.5,1089.4 L387.5,1087.4 L387.5,1085.4 L387.6,1083.4 L387.6,1081.5 L387.6,1079.5 L387.6,1077.5 L387.7,1075.5 L387.7,1073.5 L387.7,1071.5 L387.7,1069.5 L387.7,1067.5 L387.8,1065.5 L387.8,1063.5 L387.8,1061.5 L387.8,1059.5 L387.9,1057.5 L387.9,1055.5 L387.9,1053.5 L388.0,1051.5 L388.0,1049.5 L388.0,1047.5 L388.1,1045.5 L388.1,1043.6 L388.2,1041.6 L388.2,1039.6 L388.2,1037.6 L388.3,1035.6 L388.3,1033.7 L388.4,1031.7 L388.4,1029.7 L388.5,1027.7 L388.5,1025.7 L388.6,1023.8 L388.6,1021.8 L388.7,1019.8 L388.7,1017.8 L388.8,1015.8 L388.9,1013.9 L388.9,1011.9 L389.0,1009.9 L389.0,1007.9 L389.1,1005.9 L389.1,1004.0 L389.2,1002.0 L389.2,1000.0 L389.2,998.1 L389.3,996.1 L389.3,994.2 L389.4,992.2 L389.4,990.3 L389.5,988.3 L389.5,986.4 L389.6,984.4 L389.6,982.5 L389.6,980.6 L389.7,978.6 L389.7,976.7 L389.8,974.7 L389.8,972.8 L389.9,970.8 L389.9,968.9 L390.0,966.9 L390.0,965.0 L390.0,963.1 L390.1,961.1 L390.1,959.2 L390.2,957.2 L390.2,955.3 L390.3,953.3 L390.3,951.4 L390.4,949.4 L390.4,947.5 L390.4,945.6 L390.5,943.6 L390.5,941.7 L390.6,939.7 L390.6,937.8 L390.7,935.8 L390.7,933.9 L390.8,931.9 L390.8,930.0 L390.8,928.0 L390.9,925.9 L390.9,923.7 L391.0,921.4 L391.0,919.0 L391.1,916.6 L391.1,914.1 L391.2,911.6 L391.2,909.1 L391.3,906.5 L391.3,903.9 L391.4,901.3 L391.4,898.7 L391.5,896.1 L391.5,893.5 L391.5,890.9 L391.6,888.4 L391.6,885.9 L391.7,883.5 L391.7,881.2 L391.8,878.9 L391.8,876.7 L391.9,874.6 L391.9,872.6 L392.0,870.7 L392.0,868.9 L392.1,867.2 L392.1,865.7 L392.2,864.3 L392.2,863.1 L392.3,862.0 L392.3,861.1 L392.4,860.4 L392.4,859.9 L392.5,859.6 L392.5,859.5 L392.5,859.6 L392.6,859.9 L392.6,860.4 L392.7,861.1 L392.7,862.0 L392.8,863.1 L392.8,864.3 L392.9,865.7 L392.9,867.2 L393.0,868.9 L393.0,870.7 L393.1,872.6 L393.1,874.6 L393.2,876.7 L393.2,878.9 L393.3,881.2 L393.3,883.5 L393.4,885.9 L393.4,888.4 L393.5,890.9 L393.5,893.5 L393.6,896.1 L393.6,898.7 L393.7,901.3 L393.7,903.9 L393.8,906.5 L393.8,909.1 L393.9,911.6 L393.9,914.1 L394.0,916.6 L394.0,919.0 L394.1,921.4 L394.1,923.7 L394.2,925.9 L394.2,928.0 L394.3,930.0 L394.4,931.9 L394.4,933.9 L394.5,935.8 L394.5,937.8 L394.6,939.7 L394.6,941.7 L394.7,943.6 L394.7,945.6 L394.8,947.5 L394.8,949.4 L394.9,951.4 L394.9,953.3 L395.0,955.3 L395.1,957.2 L395.1,959.2 L395.2,961.1 L395.2,963.1 L395.3,965.0 L395.3,966.9 L395.4,968.9 L395.4,970.8 L395.5,972.8 L395.5,974.7 L395.6,976.7 L395.7,978.6 L395.7,980.6 L395.8,982.5 L395.8,984.4 L395.9,986.4 L395.9,988.3 L396.0,990.3 L396.0,992.2 L396.1,994.2 L396.1,996.1 L396.2,998.1 L396.2,1000.0 L396.2,1002.0 L396.3,1003.9 L396.3,1005.9 L396.4,1007.8 L396.4,1009.8 L396.5,1011.8 L396.5,1013.7 L396.6,1015.7 L396.6,1017.7 L396.6,1019.6 L396.7,1021.6 L396.7,1023.5 L396.8,1025.5 L396.8,1027.5 L396.8,1029.4 L396.9,1031.4 L396.9,1033.4 L397.0,1035.3 L397.0,1037.3 L397.1,1039.2 L397.1,1041.2 L397.1,1043.2 L397.2,1045.1 L397.2,1047.1 L397.2,1049.0 L397.3,1051.0 L397.3,1053.0 L397.4,1054.9 L397.4,1056.9 L397.4,1058.9 L397.5,1060.8 L397.5,1062.8 L397.6,1064.7 L397.6,1066.7 L397.6,1068.7 L397.7,1070.6 L397.7,1072.6 L397.7,1074.6 L397.8,1076.5 L397.8,1078.5 L397.9,1080.4 L397.9,1082.4 L397.9,1084.4 L398.0,1086.4 L398.0,1088.3 L398.0,1090.3 L398.1,1092.3 L398.1,1094.3 L398.1,1096.3 L398.2,1098.2 L398.2,1100.2 L398.2,1102.2 L398.2,1104.2 L398.3,1106.2 L398.3,1108.1 L398.3,1110.1 L398.4,1112.1 L398.4,1114.1 L398.5,1116.1 L398.5,1118.0 L398.5,1120.0 L398.6,1122.0 L398.7,1123.9 L398.7,1125.7 L398.8,1127.6 L398.8,1129.5 L398.9,1131.3 L399.0,1133.2 L399.1,1135.1 L399.2,1136.9 L399.2,1138.8 L399.3,1140.7 L399.4,1142.5 L399.5,1144.4 L399.6,1146.3 L399.7,1148.1 L399.8,1150.0 L399.9,1152.0 L400.0,1153.9 L400.1,1155.9 L400.2,1157.9 L400.3,1159.8 L400.4,1161.8 L400.6,1163.8 L400.7,1165.7 L400.8,1167.7 L400.9,1169.7 L401.0,1171.6 L401.1,1173.6 L401.3,1175.6 L401.4,1177.5 L401.5,1179.5 L401.6,1181.3 L401.7,1183.2 L401.7,1185.1 L401.8,1186.9 L401.8,1188.8 L401.9,1190.6 L401.9,1192.5 L402.1,1194.3 L402.2,1196.2 L402.4,1198.0 L402.7,1199.8 L403.0,1201.6 L403.4,1203.3 L404.0,1205.0 L404.7,1206.7 L405.5,1208.4 L406.3,1210.0 L407.1,1211.7 L408.0,1213.3 L408.8,1214.9 L409.6,1216.6 L410.4,1218.3 L411.2,1219.9 L412.0,1221.6 L412.8,1223.3 L413.7,1225.0 L414.6,1226.6 L415.6,1228.2 L416.6,1229.7 L417.7,1231.1 L418.9,1232.5 L420.2,1233.8 L421.6,1235.0 L423.1,1236.2 L424.7,1237.2 L426.3,1238.2 L427.9,1239.2 L429.5,1240.0 L431.2,1240.8 L433.0,1241.6 L434.8,1242.3 L436.7,1242.9 L438.5,1243.2 L440.3,1243.2 L442.0,1242.9 L443.7,1242.3 L445.4,1241.5 L447.1,1240.7 L448.8,1239.7 L450.4,1238.7 L452.0,1237.6 L453.7,1236.5 L455.3,1235.3 L456.9,1234.1 L458.5,1232.9 L460.1,1231.7 L461.7,1230.5 L463.3,1229.3 L464.9,1228.2 L466.5,1227.1 L468.1,1226.1 L469.7,1225.0 L471.3,1223.9 L472.8,1222.8 L474.4,1221.7 L475.8,1220.5 L477.2,1219.2 L478.5,1217.8 L479.6,1216.4 L480.7,1214.8 L481.7,1213.2 L482.7,1211.6 L483.7,1209.9 L484.6,1208.2 L485.5,1206.5 L486.3,1204.7 L487.2,1203.0 L488.0,1201.2 L488.8,1199.4 L489.6,1197.6 L490.4,1195.8 L491.2,1194.0 L492.0,1192.2 L492.8,1190.4 L493.6,1188.7 L494.4,1186.9 L495.2,1185.2 L495.9,1183.5 L496.7,1181.9 L497.4,1180.2 L498.1,1178.5 L498.9,1176.8 L499.6,1175.1 L500.3,1173.4 L501.0,1171.6 L501.6,1169.9 L502.3,1168.2 L503.0,1166.5 L503.7,1164.7 L504.4,1162.9 L505.1,1161.0 L505.8,1159.2 L506.4,1157.4 L507.1,1155.5 L507.7,1153.7 L508.4,1151.8 L509.0,1150.0 L509.6,1148.2 L510.1,1146.4 L510.7,1144.6 L511.2,1142.8 L511.7,1140.9 L512.3,1139.1 L512.8,1137.3 L513.4,1135.5 L514.0,1133.7 L514.6,1131.9 L515.2,1130.2 L515.8,1128.4 L516.5,1126.6 L517.1,1124.9 L517.9,1123.2 L518.6,1121.5 L519.5,1120.0 L520.4,1118.5 L521.8,1117.2 L523.6,1116.4 L525.2,1116.5 L526.6,1117.5 L528.0,1118.9 L529.2,1120.5 L530.3,1122.4 L531.0,1124.2 L531.5,1126.0 L532.0,1127.8 L532.4,1129.6 L532.7,1131.4 L533.1,1133.2 L533.4,1135.1 L533.6,1137.0 L533.9,1138.8 L534.2,1140.7 L534.4,1142.6 L534.7,1144.4 L535.0,1146.3 L535.3,1148.2 L535.7,1150.0 L536.1,1151.8 L536.4,1153.6 L536.8,1155.4 L537.2,1157.2 L537.6,1158.9 L538.0,1160.7 L538.5,1162.5 L539.0,1164.2 L539.5,1166.0 L540.1,1167.7 L540.8,1169.5 L541.5,1171.4 L542.4,1173.2 L543.2,1175.0 L544.1,1176.7 L545.0,1178.5 L545.8,1180.3 L546.7,1182.1 L547.5,1183.9 L548.3,1185.7 L549.0,1187.6 L549.6,1189.5 L550.3,1191.4 L551.0,1193.2 L551.7,1195.1 L552.5,1196.9 L553.4,1198.7 L554.4,1200.4 L555.4,1202.1 L556.5,1203.8 L557.6,1205.4 L558.8,1207.1 L559.9,1208.7 L561.1,1210.4 L562.2,1212.0 L563.3,1213.7 L564.3,1215.4 L565.3,1217.2 L566.3,1219.0 L567.4,1220.7 L568.5,1222.3 L569.8,1223.8 L571.1,1225.2 L572.5,1226.3 L574.0,1227.4 L575.7,1228.5 L577.4,1229.3 L579.1,1230.0 L580.7,1230.3 L582.2,1230.4 L583.5,1229.9 L584.7,1228.7 L585.7,1227.1 L586.6,1225.4 L587.3,1223.7 L587.9,1222.0 L588.4,1220.2 L588.9,1218.3 L589.3,1216.5 L589.6,1214.6 L589.9,1212.7 L590.1,1210.9 L590.3,1209.0 L590.5,1207.0 L590.6,1205.1 L590.8,1203.1 L590.9,1201.2 L591.0,1199.2 L591.1,1197.2 L591.1,1195.3 L591.2,1193.3 L591.3,1191.3 L591.3,1189.3 L591.4,1187.4 L591.5,1185.4 L591.5,1183.4 L591.6,1181.5 L591.7,1179.5 L591.8,1177.5 L591.9,1175.6 L592.0,1173.6 L592.1,1171.6 L592.2,1169.7 L592.4,1167.7 L592.5,1165.7 L592.6,1163.8 L592.7,1161.8 L592.8,1159.8 L592.9,1157.9 L593.0,1155.9 L593.1,1153.9 L593.1,1152.0 L593.2,1150.0 L593.3,1148.1 L593.3,1146.1 L593.4,1144.2 L593.4,1142.2 L593.4,1140.3 L593.5,1138.3 L593.5,1136.4 L593.6,1134.4 L593.6,1132.5 L593.6,1130.5 L593.7,1128.6 L593.7,1126.6 L593.7,1124.7 L593.7,1122.7 L593.8,1120.8 L593.8,1118.8 L593.8,1116.9 L593.9,1115.0 L593.9,1113.0 L593.9,1111.1 L593.9,1109.1 L594.0,1107.2 L594.0,1105.2 L594.0,1103.3 L594.0,1101.3 L594.1,1099.4 L594.1,1097.4 L594.1,1095.5 L594.2,1093.5 L594.2,1091.6 L594.3,1089.6 L594.3,1087.7 L594.4,1085.7 L594.4,1083.8 L594.5,1081.8 L594.5,1079.9 L594.6,1077.9 L594.6,1076.0 L594.7,1074.0 L594.7,1072.0 L594.8,1070.1 L594.8,1068.1 L594.9,1066.1 L594.9,1064.2 L595.0,1062.2 L595.1,1060.3 L595.1,1058.3 L595.2,1056.3 L595.2,1054.4 L595.3,1052.4 L595.4,1050.5 L595.4,1048.5 L595.5,1046.5 L595.6,1044.6 L595.6,1042.6 L595.7,1040.7 L595.8,1038.7 L595.8,1036.7 L595.9,1034.8 L595.9,1032.8 L596.0,1030.8 L596.1,1028.9 L596.1,1026.9 L596.2,1025.0 L596.3,1023.0 L596.3,1021.0 L596.4,1019.1 L596.4,1017.1 L596.5,1015.2 L596.6,1013.2 L596.6,1011.2 L596.7,1009.3 L596.8,1007.3 L596.8,1005.4 L596.9,1003.4 L596.9,1001.4 L597.0,999.5 L597.0,997.5 L597.1,995.5 L597.1,993.6 L597.2,991.6 L597.2,989.7 L597.3,987.7 L597.3,985.7 L597.4,983.7 L597.4,981.7 L597.5,979.7 L597.5,977.8 L597.5,975.8 L597.6,973.8 L597.6,971.8 L597.6,969.8 L597.7,967.8 L597.7,965.8 L597.7,963.8 L597.7,961.8 L597.8,959.8 L597.8,957.9 L597.8,955.9 L597.8,953.9 L597.9,951.9 L597.9,949.9 L597.9,947.9 L598.0,945.9 L598.0,943.9 L598.0,941.9 L598.1,939.9 L598.1,938.0 L598.2,936.0 L598.2,934.0 L598.2,932.0 L598.3,930.0 L598.4,928.0 L598.4,925.8 L598.5,923.5 L598.6,921.1 L598.6,918.6 L598.7,916.1 L598.8,913.5 L598.9,910.9 L598.9,908.4 L599.0,905.9 L599.1,903.5 L599.2,901.2 L599.3,899.0 L599.4,897.0 L599.5,895.2 L599.6,893.5 L599.7,892.2 L599.7,891.0 L599.8,890.2 L599.9,889.7 L600.0,889.5 L600.1,889.7 L600.2,890.2 L600.3,891.0 L600.3,892.2 L600.4,893.5 L600.5,895.2 L600.6,897.0 L600.7,899.0 L600.8,901.2 L600.9,903.5 L600.9,905.9 L601.0,908.4 L601.1,910.9 L601.2,913.5 L601.3,916.1 L601.4,918.6 L601.4,921.1 L601.5,923.5 L601.6,925.8 L601.6,928.0 L601.7,930.0 L601.8,932.0 L601.8,933.9 L601.9,935.9 L601.9,937.9 L602.0,939.8 L602.0,941.8 L602.1,943.8 L602.2,945.7 L602.2,947.7 L602.3,949.7 L602.3,951.6 L602.4,953.6 L602.4,955.5 L602.4,957.5 L602.5,959.5 L602.5,961.4 L602.6,963.4 L602.6,965.4 L602.7,967.3 L602.7,969.3 L602.8,971.3 L602.8,973.2 L602.8,975.2 L602.9,977.2 L602.9,979.1 L603.0,981.1 L603.0,983.1 L603.1,985.0 L603.1,987.0 L603.1,989.0 L603.2,990.9 L603.2,992.9 L603.3,994.9 L603.3,996.9 L603.4,998.8 L603.4,1000.8 L603.4,1002.8 L603.5,1004.8 L603.5,1006.7 L603.6,1008.7 L603.6,1010.7 L603.7,1012.6 L603.7,1014.6 L603.7,1016.6 L603.8,1018.6 L603.8,1020.5 L603.9,1022.5 L603.9,1024.5 L603.9,1026.5 L604.0,1028.4 L604.0,1030.4 L604.0,1032.4 L604.1,1034.4 L604.1,1036.3 L604.2,1038.3 L604.2,1040.3 L604.2,1042.2 L604.3,1044.2 L604.3,1046.2 L604.3,1048.2 L604.4,1050.1 L604.4,1052.1 L604.4,1054.1 L604.4,1056.1 L604.5,1058.0 L604.5,1060.0 L604.5,1062.0 L604.6,1063.9 L604.6,1065.9 L604.6,1067.8 L604.6,1069.8 L604.6,1071.7 L604.7,1073.7 L604.7,1075.7 L604.7,1077.6 L604.7,1079.6 L604.7,1081.5 L604.7,1083.5 L604.8,1085.4 L604.8,1087.4 L604.8,1089.3 L604.8,1091.3 L604.8,1093.3 L604.8,1095.2 L604.8,1097.2 L604.8,1099.1 L604.9,1101.1 L604.9,1103.0 L604.9,1105.0 L604.9,1107.0 L604.9,1108.9 L604.9,1110.9 L604.9,1112.8 L604.9,1114.8 L605.0,1116.7 L605.0,1118.7 L605.0,1120.7 L605.0,1122.6 L605.0,1124.6 L605.0,1126.5 L605.1,1128.5 L605.1,1130.4 L605.1,1132.4 L605.1,1134.3 L605.1,1136.3 L605.1,1138.3 L605.2,1140.2 L605.2,1142.2 L605.2,1144.1 L605.2,1146.1 L605.3,1148.0 L605.3,1150.0 L605.3,1151.9 L605.4,1153.8 L605.4,1155.8 L605.4,1157.7 L605.5,1159.6 L605.5,1161.5 L605.5,1163.5 L605.6,1165.4 L605.6,1167.3 L605.6,1169.2 L605.7,1171.1 L605.7,1173.1 L605.8,1175.0 L605.8,1176.9 L605.9,1178.8 L605.9,1180.8 L606.0,1182.7 L606.1,1184.6 L606.2,1186.5 L606.2,1188.4 L606.3,1190.4 L606.4,1192.3 L606.5,1194.2 L606.6,1196.1 L606.7,1198.1 L606.8,1200.0 L606.9,1202.0 L607.1,1203.9 L607.2,1205.9 L607.3,1207.8 L607.5,1209.8 L607.6,1211.7 L607.8,1213.6 L607.9,1215.6 L608.1,1217.5 L608.3,1219.5 L608.4,1221.4 L608.6,1223.3 L608.8,1225.3 L609.0,1227.2 L609.2,1229.2 L609.4,1231.1 L609.6,1233.0 L609.7,1235.0 L609.9,1237.0 L610.1,1239.0 L610.3,1240.9 L610.5,1242.9 L610.9,1244.8 L611.3,1246.7 L611.8,1248.5 L612.4,1250.3 L613.2,1252.0 L614.2,1253.7 L615.4,1254.4 L618.1,1258.3 L621.2,1259.7 L624.6,1262.8 L628.3,1263.6 L632.1,1264.2 L636.0,1265.0 L639.9,1265.9 L643.8,1265.6 L647.7,1266.0 L651.7,1267.0 L655.6,1267.4 L659.6,1267.4 L663.5,1267.7 L667.4,1269.1 L671.2,1268.4 L675.1,1268.5 L678.9,1268.7 L682.7,1268.7 L686.6,1269.2 L690.4,1269.8 L694.2,1269.4 L698.1,1269.9 L701.8,1270.3 L705.5,1270.0 L709.2,1270.7 L712.8,1270.1 L716.5,1270.6 L720.2,1270.3 L724.0,1271.6 L727.9,1270.7 L731.9,1270.6 L735.9,1271.2 L739.8,1271.3 L743.8,1271.9 L747.7,1271.3 L751.7,1271.8 L755.6,1272.0 L759.6,1271.9 L763.6,1272.1 L767.5,1273.1 L771.5,1272.5 L775.4,1273.4 L779.4,1273.9 L783.4,1273.0 L787.3,1273.1 L791.3,1273.6 L795.2,1273.6 L799.2,1274.6 L803.2,1273.7 L807.1,1274.3 L811.1,1274.4 L815.0,1275.2 L819.0,1274.7 L822.9,1275.0 L826.9,1274.7 L830.9,1275.3 L834.8,1275.0 L838.8,1275.6 L842.7,1274.9 L846.7,1274.8 L850.7,1275.3 L854.6,1275.2 L858.6,1275.2 L862.5,1275.7 L866.5,1275.9 L870.5,1277.1 L874.4,1276.1 L878.4,1275.7 L882.4,1275.5 L886.4,1276.7 L890.3,1276.7 L894.3,1276.7 L898.3,1276.5 L902.2,1276.1 L906.2,1276.2 L910.2,1276.8 L914.1,1276.7 L918.1,1276.5 L922.1,1277.2 L926.1,1276.7 L930.0,1277.4 L934.0,1276.4 L938.0,1276.9 L941.9,1277.2 L945.9,1277.5 L949.9,1277.9 L953.9,1277.4 L957.8,1277.2 L961.8,1277.1 L965.8,1277.5 L969.7,1277.7 L973.7,1276.9 L977.7,1277.0 L981.7,1277.3 L985.6,1277.6 L989.6,1277.0 L993.6,1277.3 L997.5,1277.3 L1001.5,1277.5 L1005.5,1277.3 L1009.5,1278.1 L1013.4,1277.2 L1017.4,1277.4 L1021.4,1278.0 L1025.3,1277.9 L1029.3,1277.7 L1033.3,1278.2 L1037.3,1278.0 L1041.2,1278.4 L1045.2,1278.4 L1049.2,1278.7 L1053.1,1277.7 L1057.1,1278.3 L1061.1,1279.1 L1065.1,1278.2 L1069.0,1277.8 L1073.0,1278.3 L1077.0,1278.5 L1080.9,1279.1 L1084.9,1278.4 L1088.9,1278.2 L1092.9,1279.4 L1096.8,1278.9 L1100.8,1278.6 L1104.8,1279.0 L1108.8,1278.1 L1112.7,1279.5 L1116.7,1277.9 L1120.7,1278.5 L1124.6,1278.5 L1128.6,1278.5 L1132.6,1279.3 L1136.6,1279.6 L1140.5,1278.9 L1144.5,1279.6 L1148.5,1279.5 L1152.5,1278.7 L1156.4,1279.1 L1160.4,1279.1 L1164.4,1279.7 L1168.4,1278.9 L1172.3,1279.4 L1176.3,1279.5 L1180.3,1279.8 L1184.2,1279.8 L1188.2,1279.4 L1192.2,1279.2 L1196.2,1280.0 L1200.1,1279.6 L1204.1,1279.6 L1208.1,1280.4 L1212.1,1279.8 L1216.0,1279.7 L1220.0,1280.7 L1224.0,1279.6 L1227.9,1279.6 L1231.9,1280.5 L1235.9,1280.0 L1239.9,1279.7 L1243.8,1280.2 L1247.8,1280.2 L1251.8,1280.7 L1255.8,1280.0 L1259.7,1279.8 L1263.7,1280.3 L1267.7,1280.5 L1271.7,1279.6 L1275.6,1281.1 L1279.6,1280.7 L1283.5,1280.2 L1287.4,1280.5 L1291.4,1280.7 L1295.3,1280.7 L1299.2,1281.1 L1303.2,1280.6 L1307.1,1281.3 L1311.1,1281.3 L1315.0,1281.4 L1318.9,1281.7 L1322.9,1281.1 L1326.8,1281.9 L1330.7,1281.0 L1334.6,1281.4 L1338.5,1281.9 L1342.5,1281.2 L1346.4,1281.2 L1350.2,1280.6 L1354.1,1280.8 L1358.0,1280.7 L1361.5,1279.9 L1364.5,1276.5 L1367.4,1272.4 L1371.0,1268.2 L1373.8,1268.7 L1376.5,1271.6 L1379.4,1276.1 L1382.8,1279.1 L1386.0,1280.2 L1389.9,1281.4 L1393.7,1280.7 L1397.6,1281.1 L1401.5,1280.8 L1405.3,1281.6 L1409.2,1282.1 L1413.1,1282.0 L1417.0,1281.8 L1420.9,1282.3 L1424.8,1281.8 L1428.6,1282.6 L1432.5,1281.1 L1436.4,1281.7 L1440.3,1281.6 L1444.2,1281.9 L1448.1,1281.2 L1452.0,1281.9 L1455.9,1280.8 L1459.8,1281.6 L1463.8,1281.6 L1467.7,1281.5 L1471.6,1282.0 L1475.6,1280.6 L1479.5,1281.5 L1483.4,1281.9 L1487.4,1281.4 L1491.3,1281.2 L1495.2,1282.4 L1499.2,1281.6 L1503.1,1281.6 L1507.0,1281.6 L1511.0,1281.7 L1514.9,1281.9 L1518.8,1281.1 L1522.7,1281.0 L1526.7,1281.0 L1530.6,1280.5 L1534.5,1280.3 L1538.5,1280.7 L1542.4,1280.5 L1546.3,1280.7 L1550.3,1279.8 L1554.2,1279.9 L1558.1,1279.0 L1562.1,1279.2 L1566.0,1278.7 L1570.0,1278.7 L1573.9,1278.8 L1577.8,1278.7 L1581.8,1278.7 L1585.7,1277.8 L1589.6,1277.3 L1593.6,1277.8 L1597.5,1278.2 L1601.4,1276.9 L1605.4,1276.6 L1609.3,1276.3 L1613.2,1276.8 L1617.2,1276.1 L1621.1,1275.6 L1625.0,1276.7 L1629.0,1276.2 L1632.9,1275.4 L1636.8,1275.4 L1640.8,1275.6 L1644.7,1275.3 L1648.6,1275.4 L1652.6,1276.3 L1656.5,1275.7 L1660.4,1276.0 L1664.4,1275.4 L1668.3,1275.8 L1672.2,1276.6 L1676.2,1276.9 L1680.1,1277.1 L1684.0,1277.7 L1688.0,1277.7 L1691.9,1277.8 L1695.8,1277.5 L1699.8,1279.0 L1703.7,1279.1 L1707.6,1279.3 L1711.6,1279.5 L1715.5,1279.6 L1719.4,1280.0 L1723.4,1280.3 L1727.3,1280.4 L1731.3,1281.4 L1735.2,1281.3 L1739.2,1281.8 L1743.1,1280.5 L1747.1,1282.3 L1751.0,1283.3 L1754.9,1281.5 L1758.9,1282.1 L1762.8,1281.8 L1766.7,1282.7 L1770.6,1282.8 L1774.5,1282.9 L1777.7,1283.0 L1780.7,1280.8 L1784.2,1276.3 L1786.8,1271.4 L1790.4,1265.7 L1793.2,1265.5 L1796.1,1270.4 L1799.1,1276.2 L1802.1,1281.4 L1805.0,1282.2 L1808.8,1282.3 L1812.6,1282.9 L1816.5,1283.1 L1820.3,1284.0 L1824.2,1284.8 L1828.1,1283.6 L1831.9,1284.1 L1835.9,1284.4 L1839.8,1284.4 L1843.7,1284.8 L1847.6,1284.9 L1851.5,1284.4 L1855.4,1283.6 L1859.3,1284.8 L1863.2,1284.1 L1867.1,1284.2 L1871.0,1283.6 L1874.9,1284.6 L1878.8,1283.9 L1882.7,1284.0 L1886.7,1283.6 L1890.6,1284.2 L1894.6,1284.4 L1898.6,1284.3 L1902.5,1284.3 L1906.5,1283.9 L1910.5,1284.0 L1914.5,1283.7 L1918.4,1283.0 L1922.4,1283.9 L1926.4,1284.2 L1930.3,1284.6 L1934.3,1283.9 L1938.3,1284.8 L1942.2,1283.3 L1946.2,1283.7 L1950.2,1283.6 L1954.1,1283.6 L1958.1,1283.8 L1962.1,1284.6 L1966.0,1283.7 L1970.0,1284.0 L1974.0,1284.4 L1978.0,1284.2 L1981.9,1284.0 L1985.9,1284.2 L1989.9,1284.4 L1993.8,1284.0 L1997.8,1284.5 L2001.8,1284.2 L2005.7,1284.5 L2009.7,1283.3 L2013.7,1283.9 L2017.6,1284.8 L2021.6,1284.1 L2025.6,1284.0 L2029.5,1283.6 L2033.5,1283.4 L2037.5,1284.1 L2041.5,1283.9 L2045.4,1283.9 L2049.4,1284.3 L2053.4,1283.6 L2057.3,1284.2 L2061.3,1284.7 L2065.3,1284.2 L2069.2,1284.6 L2073.2,1283.3 L2077.2,1284.2 L2081.1,1284.9 L2085.1,1284.3 L2089.1,1283.8 L2093.0,1283.7 L2097.0,1284.1 L2101.0,1284.3 L2105.0,1283.6 L2109.0,1284.1 L2113.0,1284.1 L2117.0,1283.5 L2121.0,1283.7 L2125.0,1283.9 L2129.0,1284.4 L2133.0,1284.4 L2136.9,1284.0 L2140.9,1284.0 L2144.9,1283.9 L2148.9,1284.2 L2152.9,1284.5 L2156.9,1284.2 L2160.9,1284.3 L2164.9,1284.1 L2168.9,1283.6 L2172.9,1284.2 L2176.9,1285.3 L2180.9,1284.3 L2184.9,1283.9 L2188.9,1284.0 L2192.9,1284.3 L2196.9,1284.1 L2200.9,1284.7 L2204.9,1283.9 L2208.8,1284.0 L2212.8,1284.8 L2216.8,1284.8 L2220.8,1284.7 L2224.8,1283.8 L2228.8,1285.0 L2232.8,1284.6 L2236.8,1283.9 L2240.8,1285.0 L2244.8,1285.1 L2248.8,1284.3 L2252.8,1283.5 L2256.8,1284.7 L2260.8,1285.3 L2264.8,1284.5 L2268.8,1284.6 L2272.8,1283.8 L2276.8,1284.2 L2280.7,1284.5 L2284.7,1284.2 L2288.7,1285.3 L2292.7,1284.4 L2296.7,1285.1 L2300.7,1284.4 L2304.7,1284.7 L2308.7,1285.6 L2312.7,1285.4 L2316.7,1284.9" fill="none" stroke="#ff0099" stroke-width="5.4" stroke-linejoin="round"/>
<path d="M212.0,1406.9 L213.4,1407.1 L214.8,1412.4 L216.2,1409.1 L217.6,1410.8 L219.0,1409.1 L220.4,1408.1 L221.8,1409.3 L223.2,1413.7 L224.6,1413.5 L226.0,1411.8 L227.4,1414.0 L228.8,1407.4 L230.2,1418.0 L231.6,1411.7 L233.0,1408.9 L233.1,1414.3 L234.4,1411.5 L235.8,1415.7 L237.2,1415.3 L238.6,1407.9 L240.0,1407.8 L241.4,1410.5 L242.8,1410.2 L244.2,1412.3 L245.6,1411.3 L247.0,1414.4 L248.4,1413.2 L249.8,1413.1 L251.2,1411.2 L252.6,1412.6 L254.0,1412.5 L255.4,1408.5 L256.2,1410.8 L256.8,1410.1 L258.2,1409.7 L259.6,1410.6 L261.0,1417.1 L262.4,1410.6 L263.8,1411.9 L265.2,1419.8 L266.6,1413.7 L267.8,1415.6 L268.0,1415.0 L269.4,1416.5 L270.8,1417.1 L272.2,1420.6 L273.6,1422.6 L275.0,1419.9 L276.4,1409.7 L277.8,1417.2 L279.2,1416.7 L280.6,1419.6 L282.0,1420.3 L283.4,1420.3 L284.8,1421.5 L286.2,1420.1 L287.6,1421.0 L289.0,1418.2 L290.4,1414.5 L291.8,1417.3 L293.2,1421.0 L294.6,1418.0 L296.0,1416.9 L297.4,1421.5 L298.8,1414.3 L300.2,1415.0 L301.6,1418.3 L302.4,1418.9 L303.0,1420.8 L304.4,1423.6 L305.8,1417.9 L307.2,1416.3 L308.6,1417.6 L310.0,1421.5 L311.4,1420.9 L312.8,1419.5 L314.2,1418.7 L315.6,1424.5 L317.0,1420.2 L318.4,1425.4 L318.6,1426.6 L319.8,1423.9 L321.2,1419.9 L322.6,1428.2 L324.0,1424.6 L325.4,1422.3 L326.8,1419.2 L328.2,1422.2 L329.6,1422.8 L331.0,1426.2 L332.4,1414.7 L333.8,1420.3 L335.2,1416.8 L336.6,1416.9 L337.0,1423.2 L338.0,1424.0 L339.4,1419.5 L340.8,1429.7 L342.2,1423.7 L343.6,1423.8 L345.0,1422.9 L346.4,1418.9 L347.8,1421.7 L349.2,1427.9 L350.6,1425.3 L352.0,1432.1 L353.3,1431.1 L353.4,1427.6 L354.8,1426.3 L356.2,1426.3 L357.6,1422.1 L359.0,1431.0 L360.4,1426.0 L361.8,1421.0 L363.2,1420.4 L364.6,1422.3 L366.0,1419.4 L367.1,1420.3 L367.4,1424.1 L368.8,1423.2 L370.2,1419.1 L371.6,1418.7 L373.0,1419.1 L374.4,1413.1 L375.8,1415.4 L376.4,1418.7 L377.2,1411.4 L378.6,1405.3 L380.0,1401.6 L381.4,1396.1 L382.8,1395.8 L383.8,1392.3 L384.2,1384.6 L385.6,1357.7 L385.8,1353.8 L387.0,1305.3 L387.7,1277.0 L388.4,1248.6 L389.6,1200.0 L389.8,1194.7 L391.2,1157.5 L392.2,1131.0 L392.6,1142.5 L394.0,1182.7 L394.6,1200.0 L395.4,1277.0 L396.3,1373.0 L396.8,1376.7 L398.2,1387.1 L399.6,1397.5 L400.2,1401.3 L401.0,1403.5 L402.4,1408.1 L403.8,1407.8 L405.0,1404.8 L405.2,1409.0 L406.6,1407.9 L408.0,1414.1 L408.8,1413.3 L409.4,1408.4 L410.8,1395.2 L412.2,1397.7 L413.6,1399.2 L415.0,1400.6 L416.4,1401.8 L417.8,1399.7 L418.5,1403.5 L419.2,1402.7 L420.6,1395.2 L422.0,1395.3 L422.3,1391.4 L423.4,1390.7 L424.8,1389.4 L426.2,1396.3 L427.6,1396.0 L429.0,1396.8 L430.0,1390.0 L430.4,1390.2 L431.8,1382.8 L432.9,1378.1 L433.2,1378.6 L434.6,1379.2 L436.0,1383.5 L437.4,1380.4 L438.8,1380.2 L439.6,1382.7 L440.2,1380.4 L441.6,1384.9 L443.0,1374.3 L444.4,1367.2 L445.4,1367.5 L445.8,1367.4 L447.2,1362.6 L448.6,1366.7 L450.0,1362.6 L451.2,1359.9 L451.4,1357.3 L452.8,1350.1 L454.2,1345.2 L455.0,1336.1 L455.6,1338.1 L457.0,1340.4 L458.4,1337.9 L459.8,1336.0 L461.2,1332.3 L462.6,1330.6 L462.7,1331.7 L464.0,1321.5 L465.4,1310.4 L466.5,1306.0 L466.8,1310.1 L468.2,1304.2 L469.6,1301.0 L471.0,1300.7 L472.3,1295.9 L472.4,1300.4 L473.8,1296.5 L475.2,1295.4 L476.6,1293.5 L478.0,1292.3 L479.4,1280.5 L480.8,1267.3 L481.0,1265.5 L482.2,1267.6 L483.6,1262.6 L485.0,1259.1 L485.8,1260.1 L486.4,1257.3 L487.8,1253.3 L489.2,1241.1 L489.6,1244.6 L490.6,1244.7 L492.0,1244.8 L493.4,1249.2 L493.5,1246.6 L494.8,1252.9 L495.9,1257.2 L496.2,1242.8 L497.6,1237.3 L498.3,1228.7 L499.0,1231.6 L500.4,1244.4 L501.2,1244.5 L501.8,1247.4 L503.2,1254.0 L504.6,1252.6 L504.7,1253.5 L506.0,1257.1 L507.4,1259.4 L508.8,1270.6 L509.1,1271.9 L510.2,1269.6 L511.6,1275.0 L513.0,1280.0 L513.6,1282.7 L514.4,1286.8 L515.8,1295.0 L517.2,1305.1 L518.5,1306.0 L518.6,1309.0 L520.0,1315.0 L521.4,1317.7 L522.8,1326.7 L524.2,1321.4 L525.6,1325.8 L527.0,1328.7 L528.4,1331.3 L529.8,1335.8 L531.2,1340.8 L532.0,1341.0 L532.6,1343.6 L534.0,1351.3 L535.4,1353.1 L536.8,1353.8 L537.7,1353.4 L538.2,1360.5 L539.6,1365.3 L541.0,1367.6 L541.5,1372.5 L542.4,1375.4 L543.8,1373.1 L545.2,1369.4 L546.6,1368.6 L547.3,1369.2 L548.0,1371.0 L549.4,1375.7 L550.8,1379.6 L551.2,1383.2 L552.2,1384.6 L553.6,1386.3 L555.0,1380.7 L556.4,1381.0 L557.0,1381.6 L557.8,1384.5 L559.2,1387.8 L560.6,1392.8 L560.8,1394.5 L562.0,1391.7 L563.4,1395.1 L564.8,1393.4 L566.2,1394.0 L567.6,1390.3 L568.5,1388.1 L569.0,1388.2 L570.4,1391.9 L571.8,1388.3 L573.2,1382.7 L574.6,1387.0 L576.0,1384.4 L576.2,1381.8 L577.4,1380.6 L578.8,1378.2 L580.0,1377.7 L580.2,1375.8 L581.6,1371.7 L583.0,1363.2 L583.8,1364.1 L584.4,1359.7 L585.8,1353.6 L587.2,1348.1 L587.7,1345.3 L588.6,1348.2 L590.0,1350.7 L591.4,1350.9 L592.8,1350.6 L593.5,1354.5 L594.2,1343.1 L595.6,1322.1 L596.3,1311.5 L597.0,1303.9 L598.4,1288.6 L599.8,1273.3 L601.2,1258.0 L602.6,1288.9 L603.1,1300.0 L604.0,1317.3 L605.4,1344.2 L606.8,1371.1 L606.9,1373.0 L608.2,1406.0 L608.8,1421.2 L609.6,1423.8 L611.0,1428.9 L612.4,1430.0 L613.8,1436.3 L614.6,1440.3 L615.2,1442.4 L616.6,1442.9 L618.0,1445.7 L619.4,1436.3 L620.8,1446.4 L622.2,1446.5 L622.3,1451.1 L623.6,1449.7 L625.0,1450.3 L626.4,1447.5 L627.8,1451.5 L629.2,1450.7 L630.0,1453.2 L630.6,1454.1 L632.0,1452.7 L633.4,1456.7 L634.8,1456.8 L635.8,1460.4 L636.2,1457.2 L637.6,1454.0 L639.0,1456.7 L640.4,1459.0 L641.8,1456.3 L643.2,1464.4 L644.6,1458.6 L645.4,1459.0 L646.0,1453.0 L647.4,1451.8 L648.8,1450.2 L650.2,1452.2 L651.6,1450.5 L653.0,1452.5 L654.4,1447.2 L655.0,1445.2 L655.8,1448.8 L657.2,1448.7 L658.6,1454.0 L660.0,1458.7 L661.4,1457.0 L662.7,1462.3 L662.8,1464.3 L664.2,1456.6 L665.6,1458.7 L667.0,1464.2 L668.4,1460.0 L669.8,1460.9 L671.2,1457.0 L672.3,1455.7 L672.6,1459.1 L674.0,1459.0 L675.4,1457.0 L676.8,1459.7 L678.2,1458.3 L679.6,1461.4 L680.0,1458.2 L681.0,1457.8 L682.4,1459.4 L683.8,1462.0 L685.2,1457.6 L686.6,1461.4 L688.0,1456.7 L689.4,1460.9 L690.8,1458.1 L692.2,1460.5 L692.4,1459.9 L693.6,1464.8 L695.0,1456.5 L696.4,1461.7 L697.8,1458.8 L699.2,1464.2 L700.6,1463.6 L702.0,1460.3 L703.4,1462.3 L704.8,1463.9 L706.2,1464.3 L707.6,1464.1 L709.0,1465.9 L710.4,1461.2 L711.8,1466.2 L711.9,1462.6 L713.2,1462.0 L714.6,1464.9 L716.0,1464.8 L717.4,1463.0 L718.8,1467.1 L720.2,1466.3 L721.6,1465.6 L723.0,1469.3 L724.4,1468.1 L725.8,1466.6 L727.2,1469.6 L728.6,1469.1 L730.0,1465.9 L731.4,1468.2 L732.8,1463.7 L734.2,1467.9 L735.6,1470.4 L737.0,1464.0 L738.4,1469.3 L739.8,1465.8 L741.2,1466.8 L742.6,1463.6 L744.0,1469.6 L745.4,1467.6 L746.8,1467.4 L748.2,1469.6 L749.6,1471.5 L751.0,1469.4 L752.4,1470.4 L753.8,1473.6 L755.2,1467.7 L756.6,1469.8 L758.0,1468.6 L759.4,1466.8 L760.8,1467.9 L762.2,1467.5 L763.6,1470.7 L765.0,1470.2 L766.4,1469.3 L767.8,1470.6 L768.2,1468.7 L769.2,1471.4 L770.6,1464.6 L772.0,1472.4 L773.4,1470.4 L774.8,1470.4 L776.2,1470.9 L777.6,1472.3 L779.0,1466.5 L780.4,1471.4 L781.8,1472.5 L783.2,1474.6 L784.6,1470.8 L786.0,1473.1 L787.4,1469.4 L788.8,1470.6 L790.2,1475.2 L791.6,1473.5 L793.0,1470.7 L794.4,1469.1 L795.8,1472.6 L797.2,1476.9 L798.6,1475.2 L800.0,1468.6 L801.4,1470.0 L802.8,1474.0 L804.2,1472.6 L805.6,1469.8 L807.0,1471.1 L808.4,1475.3 L809.8,1472.3 L811.2,1471.3 L811.4,1473.6 L812.6,1475.1 L814.0,1472.3 L815.4,1471.6 L816.8,1472.3 L818.2,1474.3 L819.6,1473.4 L821.0,1476.4 L822.4,1472.7 L823.8,1474.3 L825.2,1481.1 L826.6,1477.4 L828.0,1470.1 L829.4,1476.1 L830.8,1478.5 L832.2,1475.8 L833.6,1476.5 L835.0,1477.3 L836.4,1470.0 L837.8,1477.1 L839.2,1476.7 L840.6,1478.3 L842.0,1480.9 L843.4,1481.1 L844.8,1478.2 L846.2,1479.4 L847.6,1479.3 L849.0,1480.6 L850.4,1477.7 L851.8,1480.8 L853.2,1482.6 L854.6,1480.5 L856.0,1487.4 L857.4,1482.3 L858.8,1475.1 L860.2,1477.5 L861.6,1483.7 L863.0,1480.5 L864.4,1482.2 L865.8,1482.9 L867.2,1483.6 L868.6,1480.6 L870.0,1481.4 L871.4,1483.6 L872.8,1479.6 L874.2,1486.4 L875.6,1476.4 L876.3,1481.8 L877.0,1482.4 L878.4,1481.1 L879.8,1480.2 L881.2,1483.7 L882.6,1480.6 L884.0,1480.2 L885.4,1484.0 L886.8,1481.4 L888.2,1480.3 L889.6,1478.3 L891.0,1484.9 L892.4,1483.6 L893.8,1482.6 L895.2,1482.9 L896.6,1479.9 L898.0,1483.6 L899.4,1483.2 L900.8,1481.8 L902.2,1481.9 L903.6,1485.9 L905.0,1485.2 L906.4,1478.4 L907.8,1485.0 L909.2,1483.7 L910.6,1486.3 L912.0,1486.3 L913.4,1484.4 L914.8,1483.7 L916.2,1485.7 L917.6,1484.3 L919.0,1483.6 L919.6,1488.6 L920.4,1487.6 L921.8,1485.3 L923.2,1480.9 L924.6,1486.0 L926.0,1485.4 L927.4,1489.4 L928.8,1491.8 L930.2,1485.6 L931.6,1485.1 L933.0,1485.7 L934.4,1485.4 L935.8,1484.9 L937.2,1481.0 L938.6,1486.7 L940.0,1486.0 L941.4,1484.9 L942.8,1486.6 L944.2,1485.4 L945.6,1482.6 L947.0,1484.9 L948.4,1487.8 L949.8,1488.2 L951.2,1485.0 L952.6,1484.2 L954.0,1484.5 L955.4,1489.9 L956.8,1489.7 L958.2,1487.4 L959.6,1486.0 L961.0,1486.7 L962.4,1487.3 L963.8,1484.7 L965.2,1484.7 L966.6,1484.7 L968.0,1488.7 L969.4,1492.3 L970.8,1491.2 L972.2,1488.6 L973.6,1488.4 L975.0,1487.4 L976.4,1489.2 L977.8,1490.8 L979.2,1482.1 L980.6,1492.2 L982.0,1486.8 L983.4,1490.9 L984.5,1487.4 L984.8,1491.7 L986.2,1487.8 L987.6,1491.1 L989.0,1490.5 L990.4,1490.8 L991.8,1490.4 L993.2,1485.5 L994.6,1489.6 L996.0,1489.9 L997.4,1488.0 L998.8,1488.8 L1000.2,1487.0 L1001.6,1490.6 L1003.0,1480.7 L1004.4,1492.2 L1005.8,1494.0 L1007.2,1493.4 L1008.6,1496.0 L1010.0,1492.7 L1011.4,1489.6 L1012.8,1490.6 L1014.2,1490.5 L1015.6,1493.7 L1017.0,1491.5 L1018.4,1493.9 L1019.8,1496.1 L1021.2,1491.0 L1022.6,1494.6 L1024.0,1490.8 L1025.4,1492.0 L1026.8,1489.7 L1028.2,1492.1 L1029.6,1494.2 L1031.0,1492.8 L1032.4,1493.6 L1033.8,1491.3 L1035.2,1494.8 L1036.6,1494.4 L1038.0,1497.0 L1039.4,1489.1 L1040.8,1493.8 L1042.2,1495.6 L1043.6,1491.5 L1045.0,1497.3 L1046.4,1492.9 L1047.8,1495.1 L1049.2,1494.9 L1049.4,1492.7 L1050.6,1492.3 L1052.0,1494.5 L1053.4,1492.2 L1054.8,1491.3 L1056.2,1496.0 L1057.6,1495.3 L1059.0,1492.6 L1060.4,1489.1 L1061.8,1493.2 L1063.2,1492.4 L1064.6,1496.9 L1066.0,1499.7 L1067.4,1499.1 L1068.8,1495.7 L1070.2,1493.1 L1071.6,1497.7 L1073.0,1494.5 L1074.4,1492.2 L1075.8,1496.5 L1077.2,1495.4 L1078.6,1495.5 L1080.0,1496.9 L1081.4,1499.2 L1082.8,1502.6 L1084.2,1497.4 L1085.6,1496.2 L1087.0,1496.0 L1088.4,1495.9 L1089.8,1495.2 L1091.2,1497.1 L1092.6,1498.9 L1094.0,1497.2 L1095.4,1497.9 L1096.8,1497.8 L1098.2,1497.9 L1099.6,1486.7 L1100.0,1496.1 L1101.0,1498.4 L1102.4,1500.7 L1103.8,1498.2 L1105.2,1492.5 L1106.6,1495.6 L1108.0,1497.9 L1109.4,1495.3 L1110.8,1493.9 L1112.2,1496.3 L1113.6,1484.9 L1115.0,1498.5 L1116.4,1496.0 L1117.8,1497.0 L1119.2,1499.6 L1120.6,1501.1 L1122.0,1499.1 L1123.4,1499.8 L1124.8,1498.1 L1126.2,1498.0 L1127.6,1495.0 L1129.0,1503.5 L1130.4,1499.0 L1131.8,1496.0 L1133.2,1498.7 L1134.6,1496.5 L1136.0,1495.7 L1137.4,1496.6 L1138.8,1501.3 L1140.2,1496.8 L1141.6,1499.8 L1143.0,1497.7 L1144.4,1493.3 L1145.8,1496.3 L1147.2,1495.9 L1148.6,1501.6 L1150.0,1494.2 L1151.4,1500.0 L1152.8,1501.0 L1154.2,1502.7 L1155.6,1497.1 L1157.0,1495.3 L1158.4,1496.9 L1159.8,1500.7 L1161.2,1503.6 L1162.6,1500.1 L1164.0,1497.8 L1165.4,1501.1 L1166.8,1497.6 L1168.2,1501.3 L1169.6,1501.0 L1171.0,1502.0 L1172.4,1496.5 L1173.8,1501.2 L1174.4,1501.7 L1175.2,1499.5 L1176.6,1497.1 L1178.0,1497.8 L1179.4,1494.4 L1180.8,1500.7 L1182.2,1503.3 L1183.6,1499.3 L1185.0,1498.2 L1186.4,1499.6 L1187.8,1498.8 L1189.2,1499.8 L1190.6,1502.7 L1192.0,1501.9 L1193.4,1499.1 L1194.8,1499.9 L1196.2,1502.5 L1197.6,1503.3 L1199.0,1504.6 L1200.4,1500.8 L1201.8,1501.9 L1203.2,1505.3 L1204.6,1502.7 L1206.0,1504.8 L1207.4,1506.2 L1208.8,1498.6 L1210.2,1501.2 L1211.6,1504.8 L1213.0,1499.6 L1214.4,1503.9 L1215.8,1509.5 L1217.2,1501.5 L1218.6,1503.8 L1220.0,1505.0 L1221.4,1504.6 L1222.8,1503.8 L1224.2,1502.8 L1225.6,1503.7 L1227.0,1502.7 L1228.4,1502.3 L1229.8,1502.7 L1231.2,1505.1 L1232.6,1502.5 L1234.0,1503.0 L1235.4,1506.2 L1236.8,1503.0 L1238.2,1505.2 L1239.6,1502.6 L1241.0,1505.2 L1242.4,1505.3 L1243.8,1506.4 L1245.2,1505.7 L1246.6,1506.1 L1248.0,1505.4 L1249.4,1503.6 L1250.8,1503.1 L1252.2,1508.3 L1253.6,1504.9 L1255.0,1503.8 L1256.4,1505.1 L1257.8,1508.1 L1259.2,1508.0 L1260.6,1505.5 L1262.0,1509.7 L1263.4,1510.3 L1264.8,1502.6 L1266.2,1506.3 L1267.6,1507.5 L1268.8,1505.9 L1269.0,1505.3 L1270.4,1507.1 L1271.8,1506.0 L1273.2,1510.4 L1274.6,1507.8 L1276.0,1508.1 L1277.4,1502.9 L1278.8,1505.1 L1280.2,1508.8 L1281.6,1504.3 L1283.0,1503.3 L1284.4,1508.7 L1285.8,1508.8 L1287.2,1506.5 L1288.6,1508.4 L1290.0,1509.3 L1291.4,1508.5 L1292.8,1505.3 L1294.2,1505.4 L1295.6,1505.9 L1297.0,1500.1 L1298.4,1507.1 L1299.8,1505.5 L1301.2,1505.5 L1302.6,1504.6 L1304.0,1505.2 L1305.4,1505.5 L1306.8,1506.7 L1308.2,1502.6 L1309.6,1505.8 L1311.0,1505.5 L1312.4,1504.7 L1313.8,1509.3 L1315.2,1505.9 L1316.6,1504.8 L1318.0,1507.1 L1319.4,1502.7 L1320.8,1504.0 L1322.2,1509.5 L1323.6,1504.8 L1325.0,1504.2 L1326.4,1505.4 L1327.8,1507.6 L1329.2,1503.9 L1330.6,1506.7 L1332.0,1512.4 L1333.4,1504.0 L1334.8,1506.2 L1336.2,1503.5 L1337.6,1505.0 L1339.0,1505.9 L1340.4,1503.2 L1341.8,1508.0 L1343.2,1504.7 L1344.6,1503.9 L1346.0,1503.4 L1347.4,1505.6 L1348.8,1506.4 L1350.2,1501.4 L1351.6,1505.9 L1353.0,1507.3 L1354.4,1502.8 L1355.8,1506.0 L1357.2,1506.3 L1358.6,1505.2 L1360.0,1508.3 L1361.4,1503.0 L1362.8,1511.5 L1364.2,1504.4 L1365.6,1504.2 L1367.0,1507.6 L1368.4,1496.7 L1369.5,1505.0 L1369.8,1508.4 L1371.2,1506.6 L1372.6,1501.4 L1374.0,1507.6 L1375.4,1506.4 L1376.8,1506.2 L1378.2,1508.5 L1379.6,1510.5 L1381.0,1505.5 L1382.4,1509.4 L1383.8,1510.9 L1385.2,1505.9 L1386.6,1508.2 L1388.0,1507.5 L1389.4,1510.7 L1390.8,1511.6 L1392.2,1508.7 L1393.6,1513.2 L1395.0,1512.3 L1396.4,1512.4 L1397.8,1514.8 L1399.2,1516.0 L1400.6,1519.9 L1402.0,1514.8 L1403.4,1513.3 L1404.8,1516.8 L1406.2,1516.4 L1407.6,1513.7 L1409.0,1515.4 L1410.4,1512.3 L1411.8,1517.3 L1413.2,1519.8 L1414.6,1517.6 L1416.0,1515.7 L1417.4,1519.5 L1418.8,1513.7 L1420.2,1517.8 L1421.6,1515.8 L1423.0,1514.4 L1424.4,1514.0 L1425.8,1523.8 L1427.2,1517.1 L1428.6,1517.0 L1430.0,1517.6 L1431.4,1514.5 L1432.8,1516.6 L1434.2,1513.2 L1435.6,1516.3 L1437.0,1519.3 L1438.4,1519.2 L1439.8,1516.1 L1441.2,1512.8 L1442.6,1518.4 L1444.0,1516.4 L1445.4,1515.1 L1446.8,1518.5 L1448.2,1515.3 L1449.6,1513.1 L1451.0,1516.0 L1452.4,1517.2 L1453.8,1515.2 L1455.2,1516.9 L1456.6,1517.7 L1458.0,1515.1 L1459.4,1516.7 L1460.8,1515.6 L1462.2,1517.7 L1463.6,1516.5 L1465.0,1509.7 L1466.4,1514.7 L1467.8,1515.5 L1469.2,1514.8 L1470.6,1518.0 L1472.0,1520.2 L1473.4,1513.9 L1474.8,1512.1 L1476.2,1515.9 L1477.6,1515.7 L1479.0,1516.6 L1480.4,1515.0 L1481.8,1519.9 L1483.2,1515.4 L1484.6,1515.1 L1486.0,1516.7 L1487.4,1513.6 L1488.8,1518.9 L1489.0,1513.4 L1490.2,1513.1 L1491.6,1517.5 L1493.0,1513.8 L1494.4,1512.7 L1495.8,1515.1 L1497.2,1516.5 L1498.6,1518.3 L1500.0,1514.1 L1501.4,1516.6 L1502.8,1518.5 L1504.2,1513.6 L1505.6,1513.4 L1507.0,1516.5 L1508.4,1515.4 L1509.8,1519.4 L1511.2,1515.9 L1512.6,1518.3 L1514.0,1514.0 L1515.4,1513.9 L1516.8,1516.7 L1518.2,1512.4 L1519.6,1517.2 L1521.0,1514.5 L1522.4,1516.6 L1523.8,1515.9 L1525.2,1526.0 L1526.6,1516.1 L1528.0,1515.7 L1529.4,1512.4 L1530.8,1514.3 L1532.2,1516.6 L1533.6,1515.5 L1535.0,1514.0 L1536.4,1518.0 L1537.8,1515.9 L1539.2,1517.3 L1540.6,1517.1 L1542.0,1519.2 L1543.4,1516.7 L1544.8,1517.0 L1546.2,1514.0 L1547.6,1518.5 L1549.0,1515.7 L1550.4,1513.8 L1551.8,1516.1 L1553.2,1512.1 L1554.6,1517.7 L1556.0,1517.5 L1557.4,1513.3 L1558.8,1511.6 L1560.2,1516.0 L1561.6,1512.3 L1563.0,1514.5 L1564.4,1514.6 L1565.8,1512.8 L1567.2,1515.2 L1568.6,1514.0 L1570.0,1515.3 L1571.4,1513.0 L1572.8,1517.4 L1574.2,1516.6 L1575.6,1510.4 L1577.0,1513.0 L1578.4,1510.9 L1579.8,1514.5 L1581.2,1514.4 L1582.6,1511.7 L1583.5,1502.3 L1584.0,1514.1 L1585.4,1514.9 L1586.8,1511.8 L1588.2,1515.3 L1589.6,1513.2 L1591.0,1515.4 L1592.4,1516.2 L1593.8,1516.0 L1595.2,1514.3 L1596.6,1513.2 L1598.0,1520.0 L1599.4,1515.5 L1600.8,1513.6 L1602.2,1517.0 L1603.6,1518.9 L1605.0,1513.6 L1606.4,1516.6 L1607.8,1514.2 L1609.2,1516.6 L1610.6,1519.5 L1612.0,1517.4 L1613.4,1517.0 L1614.8,1519.5 L1616.2,1513.8 L1617.6,1521.1 L1619.0,1520.2 L1620.4,1517.1 L1621.8,1519.6 L1623.2,1518.5 L1624.6,1518.8 L1626.0,1516.6 L1627.4,1518.0 L1628.8,1524.4 L1630.2,1516.4 L1631.6,1517.1 L1633.0,1524.6 L1634.4,1519.2 L1635.8,1519.3 L1637.2,1519.4 L1638.6,1521.0 L1640.0,1520.6 L1641.4,1524.6 L1642.8,1521.8 L1644.2,1523.3 L1645.6,1520.3 L1646.4,1520.6 L1647.0,1518.6 L1648.4,1519.6 L1649.8,1519.7 L1651.2,1521.8 L1652.6,1520.5 L1654.0,1517.7 L1655.4,1520.1 L1656.8,1525.4 L1658.2,1524.4 L1659.6,1520.3 L1661.0,1519.1 L1662.4,1510.7 L1663.8,1519.5 L1665.2,1527.4 L1666.6,1522.3 L1668.0,1520.0 L1669.4,1521.5 L1670.8,1524.0 L1672.2,1518.6 L1673.6,1520.9 L1675.0,1516.5 L1676.4,1519.1 L1677.8,1532.6 L1679.2,1517.6 L1680.6,1521.2 L1682.0,1521.5 L1683.4,1520.9 L1684.8,1522.6 L1686.2,1523.0 L1687.6,1515.7 L1689.0,1518.2 L1690.4,1518.6 L1691.8,1516.6 L1693.2,1519.5 L1694.6,1516.4 L1696.0,1520.6 L1697.4,1520.0 L1698.8,1516.8 L1700.0,1522.1 L1700.2,1523.0 L1701.6,1520.0 L1703.0,1519.4 L1704.4,1518.6 L1705.8,1521.8 L1707.2,1522.9 L1708.6,1520.3 L1710.0,1519.0 L1711.4,1514.4 L1712.8,1522.4 L1714.2,1521.7 L1715.6,1519.6 L1717.0,1524.8 L1718.4,1519.4 L1719.8,1522.1 L1721.2,1519.2 L1722.6,1518.7 L1724.0,1525.1 L1725.4,1525.2 L1726.8,1525.9 L1728.2,1520.2 L1729.6,1521.4 L1731.0,1517.8 L1732.4,1523.0 L1733.8,1516.6 L1735.2,1522.9 L1736.6,1523.3 L1738.0,1524.4 L1739.4,1524.1 L1740.8,1519.1 L1742.2,1526.0 L1743.6,1522.2 L1745.0,1523.3 L1746.4,1523.6 L1747.8,1522.1 L1749.2,1524.5 L1750.6,1527.0 L1752.0,1520.6 L1753.4,1528.3 L1754.8,1522.6 L1756.2,1521.7 L1757.6,1524.0 L1759.0,1524.6 L1760.4,1521.6 L1761.8,1523.9 L1762.9,1524.7 L1763.2,1520.7 L1764.6,1522.5 L1766.0,1525.6 L1767.4,1524.2 L1768.8,1526.1 L1770.2,1527.0 L1771.6,1525.1 L1773.0,1527.1 L1774.4,1527.0 L1775.5,1528.0 L1775.8,1527.7 L1777.2,1528.4 L1778.6,1525.0 L1780.0,1523.5 L1781.4,1515.0 L1782.8,1516.1 L1784.2,1518.1 L1785.6,1511.5 L1787.0,1516.9 L1788.4,1511.4 L1789.8,1509.9 L1791.2,1505.9 L1792.6,1500.3 L1794.0,1510.5 L1795.4,1512.7 L1796.8,1518.0 L1798.2,1515.9 L1799.6,1519.8 L1801.0,1523.5 L1802.4,1523.5 L1803.8,1525.1 L1805.2,1527.8 L1806.6,1528.3 L1808.0,1531.8 L1809.4,1527.6 L1810.8,1524.1 L1812.2,1524.7 L1813.6,1526.7 L1815.0,1524.6 L1816.4,1527.6 L1817.8,1526.1 L1819.2,1527.6 L1820.6,1527.5 L1822.0,1520.1 L1823.4,1524.2 L1824.8,1527.9 L1826.2,1526.5 L1827.6,1526.7 L1829.0,1527.0 L1830.4,1528.3 L1831.8,1526.5 L1833.2,1525.8 L1834.6,1527.8 L1836.0,1526.1 L1837.4,1526.2 L1838.8,1525.5 L1840.2,1525.6 L1841.6,1531.9 L1843.0,1528.1 L1844.4,1529.8 L1845.8,1529.6 L1847.2,1530.3 L1848.6,1519.0 L1850.0,1521.3 L1851.4,1530.7 L1852.8,1529.3 L1854.2,1532.0 L1855.6,1524.6 L1857.0,1526.3 L1857.3,1529.3 L1858.4,1527.5 L1859.8,1523.7 L1861.2,1531.7 L1862.6,1534.8 L1864.0,1526.5 L1865.4,1528.6 L1866.8,1526.8 L1868.2,1528.0 L1869.6,1526.0 L1871.0,1528.6 L1872.4,1527.3 L1873.8,1529.2 L1875.2,1523.3 L1876.6,1526.9 L1878.0,1528.9 L1879.4,1528.4 L1880.8,1527.4 L1882.2,1526.2 L1883.6,1523.0 L1885.0,1524.7 L1886.4,1530.6 L1887.8,1529.4 L1889.2,1526.7 L1890.6,1527.2 L1892.0,1525.9 L1893.4,1526.4 L1894.8,1531.0 L1896.2,1528.3 L1897.6,1529.1 L1899.0,1528.1 L1900.4,1529.9 L1901.8,1529.0 L1903.2,1530.5 L1904.6,1530.9 L1906.0,1528.8 L1907.4,1529.5 L1908.8,1531.3 L1910.2,1530.0 L1911.6,1529.9 L1913.0,1525.1 L1914.4,1531.8 L1915.8,1527.9 L1917.2,1531.4 L1918.6,1531.1 L1920.0,1529.2 L1921.4,1530.5 L1922.8,1532.7 L1924.2,1530.1 L1925.6,1531.4 L1927.0,1529.6 L1928.4,1528.3 L1929.8,1528.2 L1931.2,1528.1 L1932.6,1530.0 L1934.0,1529.1 L1935.4,1526.7 L1936.8,1532.4 L1938.2,1528.6 L1939.6,1529.3 L1941.0,1530.5 L1942.4,1530.6 L1943.8,1532.5 L1945.2,1530.6 L1946.6,1529.0 L1948.0,1530.0 L1949.4,1532.8 L1950.8,1529.6 L1951.7,1534.8 L1952.2,1526.5 L1953.6,1529.8 L1955.0,1532.0 L1956.4,1530.6 L1957.8,1528.5 L1959.2,1529.9 L1960.6,1529.9 L1962.0,1531.7 L1963.4,1532.3 L1964.8,1532.3 L1966.2,1528.3 L1967.6,1531.1 L1969.0,1530.1 L1970.4,1529.7 L1971.8,1529.4 L1973.2,1530.9 L1974.6,1528.5 L1976.0,1534.2 L1977.4,1526.8 L1978.8,1533.4 L1980.2,1530.9 L1981.6,1530.1 L1983.0,1529.0 L1984.4,1528.4 L1985.8,1528.5 L1987.2,1531.7 L1988.6,1530.9 L1990.0,1531.6 L1991.4,1530.7 L1992.8,1533.2 L1994.2,1530.7 L1995.6,1531.8 L1997.0,1533.5 L1998.4,1532.0 L1999.8,1531.7 L2001.2,1532.3 L2002.6,1528.5 L2004.0,1530.1 L2005.4,1531.5 L2006.8,1532.6 L2008.2,1527.2 L2009.6,1531.7 L2011.0,1532.5 L2012.4,1532.1 L2013.8,1531.4 L2015.2,1533.4 L2016.6,1531.1 L2018.0,1531.9 L2019.4,1532.3 L2020.8,1531.8 L2022.2,1530.7 L2023.6,1533.0 L2025.0,1538.5 L2026.4,1533.5 L2027.8,1532.0 L2029.2,1530.0 L2030.6,1534.6 L2032.0,1534.9 L2033.4,1529.7 L2034.8,1535.5 L2036.2,1533.5 L2037.6,1530.2 L2039.0,1531.9 L2040.4,1532.6 L2041.8,1533.2 L2043.2,1533.2 L2044.6,1531.4 L2046.0,1531.7 L2047.4,1531.6 L2048.8,1530.4 L2050.2,1531.6 L2051.6,1539.5 L2053.0,1531.3 L2054.4,1531.6 L2055.8,1533.0 L2057.2,1533.8 L2058.6,1536.3 L2060.0,1536.3 L2061.4,1532.1 L2062.8,1531.5 L2064.2,1534.1 L2065.6,1536.9 L2067.0,1531.8 L2068.4,1535.4 L2069.8,1535.6 L2071.2,1531.4 L2072.6,1532.7 L2074.0,1535.9 L2075.4,1531.5 L2076.8,1533.2 L2078.2,1538.1 L2079.6,1531.9 L2081.0,1537.4 L2082.4,1534.1 L2083.8,1534.3 L2085.2,1536.4 L2086.6,1534.9 L2088.0,1532.6 L2089.4,1534.8 L2090.8,1532.1 L2092.2,1531.9 L2093.6,1533.4 L2095.0,1534.5 L2096.4,1533.8 L2097.8,1535.5 L2099.2,1533.4 L2100.6,1536.0 L2102.0,1535.2 L2103.4,1533.8 L2104.8,1535.0 L2106.2,1531.2 L2107.6,1533.6 L2109.0,1532.7 L2110.4,1534.1 L2111.8,1533.8 L2113.2,1532.6 L2114.6,1533.1 L2116.0,1537.5 L2117.4,1534.7 L2118.8,1534.4 L2120.2,1529.7 L2121.6,1535.3 L2123.0,1534.3 L2124.4,1536.5 L2125.8,1533.6 L2127.2,1536.6 L2128.6,1536.0 L2130.0,1533.8 L2131.4,1535.6 L2132.8,1531.0 L2134.2,1534.5 L2135.6,1534.6 L2137.0,1535.9 L2138.4,1532.1 L2139.8,1530.9 L2141.2,1527.4 L2142.6,1533.3 L2144.0,1535.1 L2145.4,1533.7 L2146.8,1537.0 L2148.2,1533.0 L2149.6,1531.4 L2151.0,1533.5 L2152.4,1534.6 L2153.8,1532.5 L2155.2,1532.5 L2156.6,1531.6 L2158.0,1533.8 L2159.4,1535.3 L2160.8,1533.5 L2162.2,1533.0 L2163.6,1532.0 L2165.0,1535.7 L2166.4,1535.8 L2167.8,1534.3 L2169.2,1531.4 L2170.6,1532.4 L2172.0,1529.2 L2173.4,1535.9 L2174.8,1533.2 L2176.2,1536.1 L2177.6,1535.2 L2179.0,1537.3 L2180.4,1534.4 L2181.8,1535.7 L2183.2,1532.3 L2184.6,1531.4 L2186.0,1541.0 L2187.4,1534.0 L2188.8,1530.3 L2190.2,1532.0 L2191.6,1535.4 L2193.0,1535.7 L2194.4,1531.3 L2195.8,1536.6 L2197.2,1536.7 L2198.6,1541.0 L2200.0,1535.1 L2201.4,1538.3 L2202.8,1531.2 L2204.2,1533.7 L2205.6,1533.4 L2207.0,1524.2 L2208.4,1532.6 L2209.8,1534.9 L2211.2,1533.5 L2212.6,1530.2 L2214.0,1537.5 L2215.4,1538.7 L2216.8,1534.0 L2218.2,1533.6 L2219.6,1536.8 L2221.0,1533.9 L2222.4,1533.3 L2223.8,1535.8 L2225.2,1536.1 L2226.6,1540.2 L2228.0,1535.4 L2229.4,1536.0 L2230.8,1533.3 L2232.2,1538.4 L2233.6,1539.4 L2235.0,1534.8 L2236.4,1535.8 L2237.8,1537.0 L2239.2,1534.2 L2240.6,1537.0 L2242.0,1539.1 L2243.4,1539.5 L2244.8,1534.0 L2246.2,1532.4 L2247.6,1536.7 L2249.0,1533.8 L2250.4,1539.3 L2251.8,1539.4 L2253.2,1535.4 L2254.6,1538.2 L2256.0,1538.1 L2257.4,1537.4 L2258.8,1536.8 L2260.2,1539.8 L2261.6,1535.8 L2263.0,1534.0 L2264.4,1535.4 L2265.8,1538.7 L2266.4,1539.9 L2267.2,1535.9 L2268.6,1536.8 L2270.0,1535.4 L2271.4,1537.1 L2272.8,1535.7 L2274.2,1539.3 L2275.6,1533.1 L2277.0,1539.6 L2278.4,1535.1 L2279.8,1535.5 L2281.2,1534.2 L2282.6,1533.1 L2284.0,1537.5 L2285.4,1539.7 L2286.8,1534.5 L2288.2,1534.1 L2289.6,1538.7 L2291.0,1538.8 L2292.4,1536.6 L2293.8,1535.9 L2295.2,1530.4 L2296.6,1540.1 L2298.0,1534.3 L2299.4,1537.4 L2300.8,1535.2 L2302.2,1535.5 L2303.6,1535.7 L2305.0,1537.6 L2306.4,1537.3 L2307.8,1537.8 L2309.2,1537.9 L2310.6,1537.4 L2312.0,1536.0 L2313.4,1538.7 L2314.8,1537.0 L2316.2,1536.9 L2316.7,1536.6" fill="none" stroke="#00b4f0" stroke-width="5.6" stroke-linejoin="round"/>
<path d="M212.0,1582.5 L213.4,1586.2 L214.8,1586.2 L216.2,1584.1 L217.6,1586.9 L219.0,1584.3 L220.4,1589.8 L221.8,1588.1 L223.2,1588.6 L224.6,1587.8 L226.0,1593.2 L227.4,1585.8 L228.8,1588.7 L230.2,1592.1 L231.6,1592.7 L233.0,1594.3 L233.1,1591.4 L234.4,1587.7 L235.8,1588.4 L237.2,1588.4 L238.6,1589.4 L240.0,1593.2 L241.4,1588.8 L242.8,1591.7 L244.2,1595.1 L245.6,1591.0 L247.0,1588.0 L248.4,1590.2 L249.8,1588.9 L251.2,1586.2 L252.6,1590.3 L254.0,1587.1 L255.4,1589.8 L256.2,1587.7 L256.8,1589.9 L258.2,1591.0 L259.6,1590.4 L261.0,1593.9 L262.4,1590.6 L263.8,1588.4 L265.2,1593.1 L266.6,1590.0 L268.0,1592.2 L269.4,1590.6 L270.8,1593.4 L272.2,1594.4 L273.6,1590.9 L275.0,1588.4 L276.4,1593.0 L277.8,1592.2 L279.2,1593.5 L279.3,1591.8 L280.6,1595.3 L282.0,1592.2 L283.4,1589.7 L284.8,1596.2 L286.2,1590.9 L287.6,1590.8 L289.0,1594.4 L290.4,1593.0 L291.8,1590.6 L293.2,1593.0 L294.6,1598.8 L296.0,1593.0 L297.4,1594.4 L298.8,1594.6 L300.2,1595.0 L301.6,1590.4 L303.0,1596.7 L304.4,1592.6 L305.8,1594.5 L307.0,1593.8 L307.2,1592.6 L308.6,1591.8 L310.0,1591.1 L311.4,1589.6 L312.8,1591.3 L314.2,1593.7 L315.6,1596.8 L317.0,1597.5 L318.4,1595.4 L319.8,1598.1 L321.2,1596.9 L322.6,1597.3 L324.0,1585.7 L325.4,1594.6 L326.8,1591.9 L328.2,1593.8 L329.6,1593.9 L330.1,1590.9 L331.0,1594.8 L332.4,1595.9 L333.8,1606.4 L335.2,1599.9 L336.6,1599.2 L338.0,1604.3 L339.4,1598.6 L340.8,1594.3 L341.7,1608.1 L342.2,1607.1 L343.6,1599.8 L345.0,1594.7 L346.4,1597.0 L347.8,1598.5 L349.2,1595.5 L350.6,1589.4 L352.0,1592.8 L353.3,1589.7 L353.4,1590.0 L354.8,1586.3 L356.2,1589.7 L357.6,1587.1 L359.0,1587.9 L360.4,1589.4 L361.8,1591.1 L363.2,1581.7 L364.6,1579.2 L364.8,1580.9 L366.0,1580.5 L367.4,1576.0 L368.8,1571.6 L370.2,1567.4 L371.6,1568.9 L371.7,1564.7 L373.0,1564.2 L374.4,1559.1 L375.8,1555.9 L376.2,1551.3 L377.2,1553.7 L378.6,1542.1 L378.7,1544.6 L380.0,1533.1 L381.4,1527.7 L382.8,1518.7 L383.3,1515.5 L384.2,1500.9 L385.6,1478.2 L385.8,1475.0 L387.0,1457.9 L387.9,1445.0 L388.4,1440.0 L389.8,1426.0 L390.2,1422.0 L391.2,1432.0 L392.5,1445.0 L392.6,1446.2 L394.0,1463.0 L394.5,1469.0 L395.4,1476.8 L396.8,1488.9 L397.2,1492.4 L398.2,1506.6 L399.5,1525.0 L399.6,1526.2 L401.0,1543.7 L401.5,1550.0 L402.4,1561.2 L403.8,1574.8 L404.1,1571.4 L405.2,1568.6 L406.6,1571.9 L408.0,1573.4 L409.4,1578.5 L410.8,1581.6 L411.0,1578.1 L412.2,1588.2 L413.6,1585.4 L415.0,1589.3 L415.6,1588.7 L416.4,1592.1 L417.8,1590.9 L419.2,1586.5 L420.6,1585.9 L422.0,1586.1 L423.4,1581.3 L424.8,1584.6 L426.2,1581.7 L427.2,1579.1 L427.6,1581.7 L429.0,1585.3 L430.4,1585.6 L431.8,1585.5 L433.2,1584.2 L434.6,1583.0 L436.0,1587.0 L437.4,1577.4 L438.7,1582.9 L438.8,1584.4 L440.2,1581.3 L441.6,1580.4 L443.0,1582.2 L444.4,1578.7 L445.8,1577.2 L447.2,1579.3 L448.6,1577.4 L450.0,1572.1 L450.3,1575.3 L451.4,1571.1 L452.8,1568.7 L454.2,1561.7 L455.6,1562.9 L457.0,1553.9 L457.2,1550.0 L458.4,1552.1 L459.8,1554.8 L461.2,1555.7 L462.6,1557.8 L464.0,1557.2 L464.2,1560.1 L465.4,1554.6 L466.8,1553.4 L468.2,1548.1 L469.6,1544.8 L471.0,1544.5 L471.1,1548.6 L472.4,1540.7 L473.8,1537.7 L475.2,1530.0 L476.6,1532.1 L478.0,1533.6 L479.4,1525.8 L480.8,1515.8 L482.2,1510.1 L482.6,1508.6 L483.6,1508.6 L485.0,1502.3 L486.4,1496.0 L487.3,1490.9 L487.8,1491.6 L489.2,1486.4 L490.6,1481.4 L491.5,1481.0 L492.0,1476.1 L493.4,1469.0 L494.8,1465.9 L496.2,1458.0 L497.3,1452.1 L497.6,1452.4 L499.0,1440.6 L500.4,1436.0 L501.8,1427.9 L503.0,1421.0 L503.2,1418.6 L504.6,1401.8 L506.0,1385.0 L507.0,1373.0 L507.4,1369.0 L508.8,1354.8 L510.2,1340.7 L510.8,1334.6 L511.6,1328.5 L513.0,1317.9 L514.4,1307.3 L514.6,1305.8 L515.8,1298.9 L517.2,1290.8 L518.6,1282.8 L519.6,1277.0 L520.0,1278.7 L521.4,1284.4 L522.8,1290.2 L524.2,1296.0 L525.6,1306.7 L527.0,1317.4 L528.0,1325.0 L528.4,1329.8 L529.8,1346.6 L531.2,1363.4 L532.0,1373.0 L532.6,1380.6 L534.0,1398.3 L535.4,1415.9 L535.8,1421.0 L536.8,1428.5 L538.2,1439.0 L539.6,1449.5 L540.4,1460.2 L541.0,1455.6 L542.4,1458.8 L543.8,1468.9 L545.2,1466.1 L546.6,1475.4 L547.3,1475.6 L548.0,1479.6 L549.4,1482.2 L550.8,1480.4 L552.0,1485.2 L552.2,1485.3 L553.6,1490.9 L555.0,1498.3 L556.4,1510.6 L556.6,1520.1 L557.8,1518.1 L559.2,1524.1 L560.6,1544.5 L562.0,1537.3 L563.4,1534.6 L563.5,1541.0 L564.8,1543.9 L566.2,1540.8 L567.6,1551.9 L569.0,1556.7 L570.4,1563.5 L571.8,1567.6 L573.2,1566.6 L574.6,1568.2 L576.0,1572.2 L577.4,1571.7 L578.8,1580.3 L580.2,1590.4 L581.6,1585.9 L583.0,1596.5 L584.3,1595.0 L584.4,1598.1 L585.8,1592.8 L587.2,1588.6 L588.6,1585.1 L588.9,1585.9 L590.0,1586.1 L591.4,1578.3 L592.8,1581.6 L594.2,1578.6 L595.6,1578.8 L597.0,1576.4 L598.2,1578.7 L598.4,1577.8 L599.8,1578.8 L601.2,1583.4 L602.6,1588.0 L602.8,1590.1 L604.0,1595.0 L605.4,1610.6 L606.8,1617.0 L607.4,1618.9 L608.2,1625.9 L609.6,1613.4 L611.0,1614.8 L612.0,1617.4 L612.4,1616.2 L613.8,1616.6 L615.2,1615.6 L616.6,1615.4 L618.0,1617.6 L619.4,1616.4 L620.8,1615.0 L622.2,1620.3 L623.6,1619.6 L625.0,1623.8 L625.9,1623.2 L626.4,1618.7 L627.8,1623.0 L629.2,1623.8 L630.6,1617.1 L632.0,1615.6 L633.4,1618.3 L634.8,1617.1 L636.2,1616.4 L637.4,1617.1 L637.6,1618.4 L639.0,1618.3 L640.4,1620.8 L641.8,1625.1 L643.2,1622.5 L644.4,1625.7 L644.6,1629.0 L646.0,1628.3 L647.4,1627.8 L648.8,1622.4 L650.2,1627.0 L651.6,1624.5 L653.0,1626.3 L654.4,1624.3 L655.8,1626.8 L657.2,1625.1 L658.6,1624.7 L660.0,1627.5 L660.6,1624.5 L661.4,1632.0 L662.8,1629.3 L664.2,1630.8 L665.6,1634.8 L667.0,1633.4 L667.5,1634.0 L668.4,1632.1 L669.8,1633.5 L671.2,1632.9 L672.6,1630.7 L674.0,1629.2 L675.4,1632.6 L676.8,1628.7 L678.2,1629.5 L679.6,1628.8 L680.0,1628.7 L681.0,1630.4 L682.4,1626.5 L683.8,1630.1 L685.2,1626.8 L686.6,1629.2 L688.0,1623.1 L689.4,1627.6 L690.8,1623.4 L692.2,1633.0 L693.6,1628.7 L695.0,1629.0 L696.4,1622.2 L697.8,1630.8 L699.2,1629.6 L700.6,1630.4 L702.0,1629.1 L703.3,1628.9 L703.4,1633.3 L704.8,1626.9 L706.2,1630.8 L707.6,1631.1 L709.0,1631.3 L710.4,1631.7 L711.8,1631.3 L713.2,1632.8 L714.6,1633.2 L716.0,1627.5 L717.4,1629.1 L718.8,1630.1 L720.2,1635.4 L721.6,1633.3 L723.0,1637.9 L724.4,1636.9 L725.8,1633.7 L727.2,1632.9 L728.6,1632.6 L730.0,1633.3 L731.4,1636.0 L732.8,1635.7 L734.2,1640.4 L735.6,1637.8 L737.0,1641.9 L738.4,1634.0 L739.8,1636.6 L741.2,1637.8 L742.6,1637.2 L744.0,1638.6 L745.4,1638.8 L746.8,1636.5 L748.2,1637.7 L749.6,1637.3 L751.0,1638.1 L752.4,1641.1 L753.8,1637.1 L755.2,1643.5 L756.6,1639.8 L758.0,1639.3 L759.4,1640.5 L760.8,1640.2 L762.2,1636.9 L763.6,1640.5 L765.0,1641.1 L766.4,1642.2 L767.8,1642.1 L768.2,1643.4 L769.2,1640.4 L770.6,1644.4 L772.0,1644.9 L773.4,1640.1 L774.8,1642.4 L776.2,1641.4 L777.6,1642.4 L779.0,1642.8 L780.4,1639.7 L781.8,1643.0 L783.2,1642.5 L784.6,1642.6 L786.0,1644.0 L787.4,1642.0 L788.8,1640.6 L790.2,1644.1 L791.6,1640.1 L793.0,1641.0 L794.4,1644.2 L795.8,1641.8 L797.2,1644.4 L798.6,1646.1 L800.0,1641.7 L801.4,1645.7 L802.8,1640.8 L804.2,1646.0 L805.6,1648.1 L807.0,1645.8 L808.4,1642.3 L809.8,1646.1 L811.2,1642.8 L812.6,1644.2 L814.0,1652.2 L815.4,1644.4 L816.8,1644.3 L818.2,1646.2 L819.6,1645.7 L821.0,1642.9 L822.4,1647.2 L823.8,1648.0 L825.2,1644.8 L826.6,1647.9 L828.0,1650.6 L829.4,1647.9 L830.8,1644.5 L832.2,1643.0 L833.0,1643.4 L833.6,1646.2 L835.0,1643.5 L836.4,1644.7 L837.8,1646.6 L839.2,1640.4 L840.6,1646.2 L842.0,1644.6 L843.4,1647.8 L844.8,1646.7 L846.2,1646.0 L847.6,1649.6 L849.0,1647.4 L850.4,1644.3 L851.8,1650.1 L853.2,1648.3 L854.6,1648.3 L856.0,1641.9 L857.4,1648.1 L858.8,1650.4 L860.2,1644.8 L861.6,1651.1 L863.0,1652.2 L864.4,1648.0 L865.8,1650.0 L867.2,1649.7 L868.6,1644.8 L870.0,1649.7 L871.4,1649.6 L872.8,1649.6 L874.2,1647.8 L875.6,1648.7 L876.3,1647.0 L877.0,1649.6 L878.4,1647.0 L879.8,1644.3 L881.2,1648.9 L882.6,1653.9 L884.0,1651.7 L885.4,1649.9 L886.8,1648.4 L888.2,1647.3 L889.6,1648.1 L891.0,1649.0 L892.4,1651.8 L893.8,1646.9 L895.2,1649.4 L896.6,1650.5 L898.0,1647.2 L899.4,1650.7 L900.8,1650.4 L902.2,1645.6 L903.6,1651.5 L905.0,1651.0 L906.4,1650.8 L907.8,1646.8 L909.2,1651.3 L910.6,1652.2 L912.0,1648.0 L913.4,1649.7 L914.8,1649.0 L916.2,1651.2 L917.6,1646.6 L919.0,1649.0 L919.6,1653.2 L920.4,1646.8 L921.8,1651.4 L923.2,1647.1 L924.6,1649.5 L926.0,1640.6 L927.4,1647.2 L928.8,1655.1 L930.2,1651.0 L931.6,1649.9 L933.0,1652.5 L934.4,1650.8 L935.8,1648.9 L937.2,1652.1 L938.6,1654.2 L940.0,1652.6 L941.4,1646.5 L942.8,1653.6 L944.2,1647.3 L945.6,1649.7 L947.0,1653.9 L948.4,1651.3 L949.8,1652.0 L951.2,1649.7 L952.6,1653.5 L954.0,1649.9 L955.4,1655.7 L956.8,1654.7 L958.2,1653.7 L959.6,1651.7 L961.0,1653.1 L962.4,1656.6 L963.8,1652.9 L965.2,1654.6 L966.6,1654.6 L968.0,1656.1 L969.4,1653.2 L970.8,1658.6 L972.2,1656.7 L973.6,1654.7 L975.0,1655.1 L976.4,1657.3 L977.8,1653.5 L979.2,1657.1 L980.6,1655.8 L982.0,1656.5 L983.4,1661.8 L984.5,1661.1 L984.8,1657.1 L986.2,1657.1 L987.6,1658.9 L989.0,1654.9 L990.4,1658.7 L991.8,1657.5 L993.2,1658.3 L994.6,1659.6 L996.0,1657.7 L997.4,1657.2 L998.8,1657.8 L1000.2,1655.0 L1001.6,1660.0 L1003.0,1658.4 L1004.4,1658.1 L1005.8,1653.4 L1007.2,1653.2 L1008.6,1660.4 L1010.0,1661.5 L1011.4,1656.3 L1012.8,1659.5 L1014.2,1656.7 L1015.6,1659.3 L1017.0,1662.7 L1018.4,1659.8 L1019.8,1655.3 L1021.2,1657.0 L1022.6,1658.4 L1024.0,1660.5 L1025.4,1660.2 L1026.8,1661.8 L1028.2,1661.4 L1029.6,1662.7 L1031.0,1663.3 L1032.4,1662.8 L1033.8,1661.6 L1035.2,1660.9 L1036.6,1662.6 L1038.0,1662.5 L1039.4,1661.2 L1040.8,1660.1 L1042.2,1665.0 L1043.6,1656.0 L1045.0,1661.9 L1046.4,1660.7 L1047.8,1660.5 L1049.2,1662.5 L1049.4,1661.3 L1050.6,1662.3 L1052.0,1660.3 L1053.4,1662.0 L1054.8,1665.5 L1056.2,1662.0 L1057.6,1662.1 L1059.0,1664.3 L1060.4,1657.6 L1061.8,1660.5 L1063.2,1661.9 L1064.6,1663.2 L1066.0,1663.6 L1067.4,1666.4 L1068.8,1665.3 L1070.2,1662.3 L1071.6,1663.9 L1073.0,1663.2 L1074.4,1665.5 L1075.8,1664.1 L1077.2,1665.0 L1078.6,1664.0 L1080.0,1665.2 L1081.4,1666.3 L1082.8,1669.2 L1084.2,1671.6 L1085.6,1668.0 L1087.0,1663.2 L1088.4,1660.9 L1089.8,1663.6 L1091.2,1665.1 L1092.6,1664.7 L1094.0,1667.2 L1095.4,1665.2 L1096.8,1668.9 L1098.2,1661.5 L1099.6,1667.1 L1101.0,1663.5 L1102.4,1665.0 L1103.8,1663.8 L1105.2,1662.9 L1106.6,1664.7 L1108.0,1663.4 L1109.4,1665.7 L1110.8,1668.7 L1112.2,1661.6 L1113.6,1664.4 L1115.0,1663.1 L1116.4,1664.5 L1117.8,1666.9 L1119.2,1652.5 L1120.6,1669.2 L1122.0,1668.8 L1123.4,1663.2 L1124.8,1666.3 L1126.2,1666.2 L1127.6,1668.0 L1129.0,1664.0 L1130.4,1666.1 L1131.8,1668.5 L1133.2,1668.4 L1134.6,1669.6 L1136.0,1666.3 L1137.4,1668.3 L1138.8,1663.4 L1140.2,1665.7 L1141.6,1668.1 L1143.0,1665.1 L1144.4,1664.9 L1145.8,1664.3 L1147.2,1661.9 L1148.6,1667.0 L1150.0,1664.3 L1151.4,1669.7 L1152.8,1665.3 L1154.2,1666.0 L1155.6,1665.9 L1157.0,1666.4 L1158.4,1667.7 L1159.8,1667.7 L1161.2,1668.5 L1162.6,1668.7 L1164.0,1665.8 L1165.4,1666.9 L1166.8,1666.4 L1168.2,1665.1 L1169.6,1665.9 L1171.0,1667.2 L1172.4,1665.9 L1173.8,1666.8 L1174.4,1669.6 L1175.2,1669.8 L1176.6,1670.1 L1178.0,1667.6 L1179.4,1664.3 L1180.8,1666.1 L1182.2,1666.9 L1183.6,1669.3 L1185.0,1668.4 L1186.4,1667.9 L1187.8,1669.1 L1189.2,1667.3 L1190.6,1663.2 L1192.0,1665.1 L1193.4,1668.6 L1194.8,1664.5 L1196.2,1667.1 L1197.6,1669.1 L1199.0,1667.4 L1200.4,1667.6 L1201.8,1670.4 L1203.2,1668.5 L1204.6,1666.6 L1206.0,1667.4 L1207.4,1669.5 L1208.8,1666.7 L1210.2,1670.1 L1211.6,1672.0 L1213.0,1671.3 L1214.4,1670.7 L1215.8,1671.1 L1217.2,1671.7 L1218.6,1665.4 L1220.0,1672.7 L1221.4,1670.8 L1222.8,1677.6 L1224.2,1673.4 L1225.6,1671.6 L1227.0,1664.7 L1228.4,1668.1 L1229.8,1668.5 L1231.2,1669.0 L1232.6,1669.7 L1234.0,1669.3 L1235.4,1671.3 L1236.8,1671.4 L1238.2,1669.7 L1239.6,1666.3 L1241.0,1669.2 L1242.4,1671.0 L1243.8,1668.4 L1245.2,1669.2 L1246.6,1671.2 L1248.0,1677.3 L1249.4,1669.4 L1250.8,1670.4 L1252.2,1673.1 L1253.6,1671.8 L1255.0,1670.5 L1256.4,1671.2 L1257.8,1670.8 L1259.2,1669.9 L1260.6,1669.2 L1262.0,1670.3 L1263.4,1671.2 L1264.8,1669.8 L1266.2,1670.6 L1267.6,1669.0 L1268.8,1670.9 L1269.0,1669.2 L1270.4,1670.4 L1271.8,1675.7 L1273.2,1677.2 L1274.6,1674.0 L1276.0,1672.0 L1277.4,1669.0 L1278.8,1667.6 L1280.2,1675.0 L1281.6,1667.8 L1283.0,1674.4 L1284.4,1671.1 L1285.8,1674.5 L1287.2,1671.2 L1288.6,1673.1 L1290.0,1672.9 L1291.4,1673.0 L1292.8,1673.2 L1294.2,1671.4 L1295.6,1672.1 L1297.0,1673.8 L1298.4,1669.6 L1299.8,1675.8 L1301.2,1671.1 L1302.6,1670.1 L1304.0,1672.2 L1305.4,1671.5 L1306.8,1670.6 L1308.2,1674.9 L1309.6,1668.7 L1311.0,1672.4 L1312.4,1675.4 L1313.8,1673.6 L1315.2,1672.2 L1316.6,1672.1 L1318.0,1671.7 L1319.4,1671.0 L1320.8,1675.3 L1322.2,1669.7 L1323.6,1668.5 L1325.0,1670.8 L1326.4,1672.1 L1327.8,1670.1 L1329.2,1672.3 L1330.6,1671.1 L1332.0,1673.9 L1333.4,1670.9 L1334.8,1671.0 L1336.2,1669.8 L1337.6,1673.6 L1339.0,1672.4 L1340.4,1673.3 L1341.8,1672.6 L1343.2,1676.0 L1344.6,1670.2 L1346.0,1671.3 L1347.4,1672.3 L1348.8,1670.3 L1350.2,1670.2 L1351.6,1670.8 L1353.0,1669.6 L1354.4,1671.8 L1355.8,1672.5 L1357.2,1669.1 L1358.6,1673.6 L1360.0,1660.3 L1361.4,1672.5 L1362.8,1671.8 L1363.2,1673.0 L1364.2,1671.2 L1365.6,1676.8 L1367.0,1668.4 L1368.4,1676.8 L1369.8,1675.7 L1371.2,1671.5 L1372.6,1673.9 L1374.0,1673.6 L1375.4,1677.0 L1376.8,1675.2 L1378.2,1675.4 L1379.6,1676.7 L1381.0,1677.8 L1382.4,1676.7 L1383.8,1672.4 L1385.2,1674.2 L1386.6,1675.7 L1388.0,1673.7 L1389.4,1677.6 L1390.8,1677.3 L1392.2,1676.4 L1393.6,1678.8 L1394.7,1678.9 L1395.0,1679.2 L1396.4,1675.2 L1397.8,1682.1 L1399.2,1680.1 L1400.6,1677.9 L1402.0,1679.2 L1403.4,1677.7 L1404.8,1680.8 L1406.2,1675.5 L1407.6,1681.5 L1409.0,1678.1 L1410.4,1677.5 L1411.8,1675.2 L1413.2,1677.7 L1414.6,1677.1 L1416.0,1677.4 L1417.4,1675.2 L1418.8,1675.3 L1420.2,1676.8 L1421.6,1673.6 L1423.0,1675.8 L1424.4,1676.3 L1425.8,1679.3 L1427.2,1680.7 L1428.6,1678.8 L1430.0,1676.3 L1431.4,1677.9 L1432.8,1675.3 L1434.2,1681.2 L1435.6,1677.7 L1437.0,1679.5 L1438.4,1674.7 L1439.8,1678.8 L1441.2,1678.6 L1442.6,1679.0 L1444.0,1680.8 L1445.4,1674.4 L1446.8,1679.5 L1448.2,1678.3 L1449.6,1676.6 L1451.0,1677.6 L1452.4,1677.6 L1453.8,1675.2 L1455.2,1676.2 L1456.6,1676.0 L1458.0,1678.2 L1459.4,1674.6 L1460.8,1682.1 L1462.2,1679.8 L1463.6,1680.8 L1465.0,1678.7 L1466.4,1679.4 L1467.8,1677.2 L1469.2,1676.0 L1470.6,1677.6 L1472.0,1679.3 L1473.4,1674.2 L1474.8,1679.9 L1476.2,1678.4 L1477.6,1679.1 L1479.0,1680.2 L1480.4,1676.5 L1481.8,1680.6 L1483.2,1678.6 L1484.6,1678.4 L1486.0,1678.4 L1487.4,1681.3 L1488.8,1679.2 L1489.0,1683.1 L1490.2,1677.2 L1491.6,1680.1 L1493.0,1679.1 L1494.4,1676.2 L1495.8,1677.4 L1497.2,1679.6 L1498.6,1675.3 L1500.0,1681.6 L1501.4,1674.5 L1502.8,1673.7 L1504.2,1681.3 L1505.6,1682.1 L1507.0,1681.0 L1508.4,1679.5 L1509.8,1677.0 L1511.2,1680.0 L1512.6,1680.6 L1514.0,1678.1 L1515.4,1679.9 L1516.8,1679.5 L1518.2,1677.7 L1519.6,1677.0 L1521.0,1682.8 L1522.4,1681.8 L1523.8,1670.0 L1525.2,1682.4 L1526.6,1677.8 L1528.0,1680.2 L1529.4,1675.5 L1530.8,1680.5 L1532.2,1679.5 L1533.6,1679.8 L1535.0,1680.2 L1536.4,1680.9 L1537.8,1675.7 L1539.2,1680.3 L1540.6,1679.9 L1542.0,1682.7 L1543.4,1679.3 L1544.8,1675.5 L1546.2,1677.0 L1547.6,1676.5 L1549.0,1676.5 L1550.4,1675.5 L1551.8,1679.1 L1553.2,1679.1 L1554.6,1679.7 L1556.0,1679.5 L1557.4,1677.3 L1558.8,1680.5 L1560.2,1680.5 L1561.6,1680.9 L1563.0,1683.2 L1564.4,1678.3 L1565.8,1678.2 L1567.2,1680.6 L1567.7,1679.0 L1568.6,1684.3 L1570.0,1678.6 L1571.4,1682.0 L1572.8,1682.8 L1574.2,1678.1 L1575.6,1680.7 L1577.0,1674.7 L1578.4,1681.7 L1579.8,1679.3 L1581.2,1672.3 L1582.6,1675.0 L1584.0,1677.4 L1585.4,1672.5 L1586.8,1677.5 L1588.2,1679.1 L1589.6,1682.4 L1591.0,1680.0 L1592.4,1676.2 L1593.8,1677.3 L1595.2,1677.4 L1596.6,1678.7 L1598.0,1673.9 L1599.4,1682.7 L1600.8,1675.0 L1602.2,1682.6 L1603.6,1672.3 L1605.0,1676.2 L1606.4,1669.7 L1607.8,1673.3 L1609.2,1673.9 L1610.6,1683.4 L1612.0,1674.6 L1613.4,1674.9 L1614.8,1675.1 L1616.2,1672.8 L1617.6,1675.5 L1619.0,1672.9 L1620.4,1676.3 L1621.8,1675.5 L1623.2,1672.3 L1624.6,1672.4 L1626.0,1676.7 L1627.4,1676.1 L1628.8,1673.9 L1630.2,1670.1 L1631.6,1670.7 L1633.0,1671.4 L1634.4,1671.8 L1635.8,1673.0 L1637.2,1670.5 L1638.6,1672.0 L1640.0,1673.8 L1641.4,1666.6 L1642.8,1672.2 L1644.2,1675.3 L1645.6,1673.8 L1647.0,1673.9 L1648.4,1670.5 L1649.8,1671.8 L1651.2,1675.4 L1652.6,1663.5 L1654.0,1673.9 L1655.4,1673.4 L1656.8,1675.4 L1658.2,1672.5 L1659.6,1672.6 L1661.0,1674.8 L1662.4,1675.0 L1663.8,1673.1 L1665.2,1673.2 L1666.6,1676.2 L1668.0,1670.6 L1669.4,1672.9 L1670.8,1671.3 L1672.2,1679.5 L1673.6,1678.5 L1675.0,1675.6 L1676.4,1678.8 L1677.8,1677.4 L1677.9,1677.9 L1679.2,1678.8 L1680.6,1678.3 L1682.0,1676.5 L1683.4,1678.7 L1684.8,1676.1 L1686.2,1677.6 L1687.6,1680.2 L1689.0,1677.4 L1690.4,1680.7 L1691.8,1678.5 L1693.2,1677.0 L1694.6,1679.3 L1696.0,1677.1 L1697.4,1684.0 L1698.8,1677.8 L1700.0,1676.3 L1700.2,1678.9 L1701.6,1683.9 L1703.0,1680.5 L1704.4,1677.0 L1705.8,1674.9 L1707.2,1679.4 L1708.6,1680.9 L1710.0,1679.1 L1711.4,1682.0 L1712.8,1683.1 L1714.2,1680.5 L1715.6,1683.6 L1717.0,1679.5 L1718.4,1678.7 L1719.8,1688.0 L1721.2,1682.1 L1722.6,1682.4 L1724.0,1682.9 L1725.4,1685.6 L1726.8,1681.2 L1728.2,1685.8 L1729.6,1684.8 L1731.0,1679.2 L1732.4,1682.4 L1733.8,1684.0 L1735.2,1687.5 L1736.6,1684.1 L1738.0,1687.2 L1739.4,1685.1 L1740.8,1686.7 L1742.2,1687.1 L1743.6,1686.9 L1745.0,1686.5 L1746.4,1688.2 L1747.2,1687.2 L1747.8,1684.4 L1749.2,1689.2 L1750.6,1686.9 L1752.0,1687.0 L1753.4,1686.1 L1754.8,1687.3 L1756.2,1687.1 L1757.6,1687.9 L1759.0,1687.8 L1760.4,1693.3 L1761.8,1692.9 L1763.2,1683.9 L1764.6,1685.9 L1766.0,1689.2 L1767.4,1686.9 L1768.8,1686.5 L1770.2,1687.5 L1771.6,1689.0 L1773.0,1687.3 L1774.4,1689.3 L1775.8,1688.3 L1777.2,1684.8 L1778.6,1685.0 L1780.0,1689.1 L1781.4,1685.5 L1782.8,1686.8 L1784.2,1691.7 L1785.6,1685.3 L1787.0,1687.8 L1788.4,1690.5 L1789.8,1692.4 L1791.2,1691.4 L1792.6,1688.5 L1794.0,1690.8 L1794.4,1686.9 L1795.4,1686.9 L1796.8,1689.0 L1798.2,1689.2 L1799.6,1686.1 L1801.0,1689.0 L1802.4,1687.9 L1803.8,1695.2 L1805.2,1692.9 L1806.6,1689.9 L1808.0,1692.4 L1809.4,1687.9 L1810.8,1689.1 L1812.2,1689.0 L1813.6,1690.4 L1815.0,1688.9 L1816.4,1694.2 L1817.8,1690.8 L1819.2,1687.0 L1820.6,1685.6 L1822.0,1689.6 L1823.4,1690.4 L1824.8,1692.0 L1826.2,1690.4 L1827.6,1687.2 L1829.0,1687.1 L1830.4,1696.2 L1831.8,1689.3 L1833.2,1689.0 L1834.6,1690.0 L1836.0,1690.8 L1837.4,1688.5 L1838.8,1692.1 L1840.2,1690.2 L1841.6,1690.9 L1843.0,1693.3 L1844.4,1691.5 L1845.8,1689.3 L1847.2,1688.7 L1848.6,1691.0 L1850.0,1693.6 L1851.4,1688.0 L1852.8,1688.3 L1854.2,1689.7 L1855.6,1688.2 L1857.0,1689.8 L1858.4,1687.7 L1859.8,1685.9 L1861.2,1692.1 L1862.6,1689.3 L1864.0,1691.1 L1865.4,1692.1 L1866.8,1688.7 L1868.2,1694.0 L1869.6,1688.9 L1871.0,1691.9 L1872.4,1692.6 L1873.8,1691.4 L1875.2,1692.6 L1876.6,1695.9 L1878.0,1691.5 L1879.4,1687.9 L1880.8,1695.0 L1882.2,1688.2 L1883.6,1694.4 L1885.0,1689.4 L1886.4,1691.3 L1887.8,1686.1 L1888.8,1691.2 L1889.2,1694.0 L1890.6,1689.1 L1892.0,1690.0 L1893.4,1691.6 L1894.8,1690.6 L1896.2,1697.5 L1897.6,1690.5 L1899.0,1691.9 L1900.4,1690.0 L1901.8,1690.9 L1903.2,1693.8 L1904.6,1692.9 L1906.0,1694.6 L1907.4,1688.0 L1908.8,1690.9 L1910.2,1688.9 L1911.6,1694.3 L1913.0,1690.2 L1914.4,1689.5 L1915.8,1695.2 L1917.2,1690.4 L1918.6,1693.7 L1920.0,1691.6 L1921.4,1689.4 L1922.8,1692.8 L1924.2,1686.7 L1925.6,1693.0 L1927.0,1693.0 L1928.4,1694.4 L1929.8,1690.9 L1931.2,1692.9 L1932.6,1690.3 L1934.0,1688.7 L1935.4,1694.5 L1936.8,1696.1 L1938.2,1688.4 L1939.6,1691.4 L1941.0,1686.2 L1942.4,1690.9 L1943.8,1691.5 L1945.2,1694.6 L1946.6,1692.1 L1948.0,1692.8 L1949.4,1692.1 L1950.8,1691.4 L1952.2,1693.3 L1953.6,1692.0 L1955.0,1689.9 L1956.4,1693.8 L1957.8,1694.1 L1959.2,1689.7 L1960.6,1692.5 L1962.0,1692.0 L1963.4,1693.6 L1964.8,1693.7 L1966.2,1690.0 L1967.6,1690.8 L1969.0,1692.7 L1970.4,1694.3 L1971.8,1692.1 L1973.2,1691.7 L1974.6,1700.5 L1976.0,1694.5 L1977.4,1689.9 L1978.8,1693.5 L1980.2,1694.9 L1981.6,1694.6 L1983.0,1693.9 L1983.2,1695.0 L1984.4,1695.2 L1985.8,1693.8 L1987.2,1692.9 L1988.6,1694.2 L1990.0,1690.6 L1991.4,1694.8 L1992.8,1687.0 L1994.2,1694.5 L1995.6,1693.7 L1997.0,1689.6 L1998.4,1690.1 L1999.8,1691.9 L2001.2,1690.4 L2002.6,1687.4 L2004.0,1695.0 L2005.4,1692.4 L2006.8,1692.6 L2008.2,1688.0 L2009.6,1690.3 L2011.0,1693.1 L2012.4,1695.7 L2013.8,1690.7 L2015.2,1691.8 L2016.6,1696.6 L2018.0,1692.1 L2019.4,1693.1 L2020.8,1689.9 L2022.2,1690.5 L2023.6,1693.3 L2025.0,1692.6 L2026.4,1692.6 L2027.8,1694.7 L2029.2,1690.4 L2030.6,1691.8 L2032.0,1693.7 L2033.4,1693.3 L2034.8,1694.1 L2036.2,1695.0 L2037.6,1691.9 L2039.0,1691.3 L2040.4,1691.9 L2041.8,1696.7 L2043.2,1693.4 L2044.6,1694.6 L2046.0,1692.6 L2047.4,1692.6 L2048.8,1692.7 L2050.2,1695.1 L2051.6,1693.9 L2053.0,1695.2 L2054.4,1692.8 L2055.8,1693.3 L2057.2,1693.2 L2058.6,1693.6 L2060.0,1696.8 L2061.4,1695.7 L2062.8,1695.8 L2064.2,1692.4 L2065.6,1692.7 L2067.0,1694.9 L2068.4,1695.7 L2069.8,1694.4 L2071.2,1689.6 L2072.6,1690.8 L2074.0,1697.5 L2075.4,1695.8 L2076.8,1698.1 L2077.6,1690.5 L2078.2,1698.7 L2079.6,1692.4 L2081.0,1695.6 L2082.4,1696.8 L2083.8,1696.1 L2085.2,1691.3 L2086.6,1695.4 L2088.0,1690.8 L2089.4,1695.6 L2090.8,1696.4 L2092.2,1694.7 L2093.6,1697.7 L2095.0,1693.6 L2096.4,1696.3 L2097.8,1695.9 L2099.2,1691.3 L2100.6,1695.7 L2102.0,1693.2 L2103.4,1696.6 L2104.8,1696.9 L2106.2,1693.1 L2107.6,1693.9 L2109.0,1693.4 L2110.4,1695.3 L2111.8,1699.5 L2113.2,1695.2 L2114.6,1693.5 L2116.0,1694.5 L2117.4,1698.0 L2118.8,1696.0 L2120.2,1694.5 L2121.6,1694.6 L2123.0,1693.3 L2124.4,1695.7 L2125.8,1695.0 L2127.2,1689.4 L2128.6,1698.9 L2130.0,1693.8 L2131.4,1692.4 L2132.8,1686.8 L2134.2,1695.8 L2135.6,1696.2 L2137.0,1692.0 L2138.4,1694.1 L2139.8,1693.5 L2141.2,1694.4 L2142.6,1696.4 L2144.0,1696.6 L2145.4,1700.1 L2146.8,1694.9 L2148.2,1696.4 L2149.6,1695.5 L2151.0,1697.9 L2152.4,1695.3 L2153.8,1694.9 L2155.2,1694.9 L2156.6,1694.8 L2158.0,1697.2 L2159.4,1697.6 L2160.8,1697.2 L2162.2,1693.2 L2163.6,1696.1 L2165.0,1695.5 L2166.4,1699.7 L2167.8,1697.8 L2169.2,1695.3 L2170.6,1698.5 L2172.0,1695.6 L2173.4,1695.3 L2174.8,1696.7 L2176.2,1699.3 L2177.6,1697.7 L2179.0,1696.9 L2180.4,1696.2 L2181.8,1693.5 L2183.2,1695.4 L2184.6,1692.2 L2186.0,1699.1 L2187.4,1699.1 L2188.8,1697.1 L2190.2,1693.4 L2191.6,1692.5 L2193.0,1697.0 L2194.4,1697.2 L2195.8,1697.6 L2197.2,1696.7 L2198.6,1696.6 L2200.0,1695.3 L2201.4,1697.5 L2202.8,1694.4 L2204.2,1699.4 L2205.6,1695.5 L2207.0,1694.0 L2208.4,1697.8 L2209.8,1694.2 L2211.2,1694.8 L2212.6,1696.0 L2214.0,1696.9 L2215.4,1695.1 L2216.8,1694.4 L2218.2,1691.4 L2219.6,1699.3 L2221.0,1694.3 L2222.4,1698.6 L2223.8,1700.3 L2225.2,1700.7 L2226.6,1694.7 L2228.0,1697.4 L2229.4,1696.5 L2230.8,1692.3 L2232.2,1694.5 L2233.6,1693.3 L2235.0,1695.9 L2236.4,1695.9 L2237.8,1692.6 L2239.2,1695.6 L2240.6,1699.4 L2242.0,1696.3 L2243.4,1701.9 L2244.8,1696.6 L2246.2,1695.9 L2247.6,1700.4 L2249.0,1694.5 L2250.4,1699.7 L2251.8,1699.0 L2253.2,1700.0 L2254.6,1699.2 L2256.0,1699.1 L2257.4,1698.2 L2258.8,1694.8 L2260.2,1695.4 L2261.6,1698.5 L2263.0,1700.4 L2264.4,1695.1 L2265.8,1698.6 L2266.4,1698.5 L2267.2,1697.2 L2268.6,1693.0 L2270.0,1695.3 L2271.4,1695.5 L2272.8,1697.7 L2274.2,1698.8 L2275.6,1696.8 L2277.0,1697.7 L2278.4,1697.6 L2279.8,1698.5 L2281.2,1697.7 L2282.6,1701.2 L2284.0,1696.8 L2285.4,1700.0 L2286.8,1694.8 L2288.2,1696.4 L2289.6,1698.8 L2291.0,1693.4 L2292.4,1696.0 L2293.8,1696.9 L2295.2,1693.5 L2296.6,1701.0 L2298.0,1696.0 L2299.4,1697.9 L2300.8,1695.1 L2302.2,1699.7 L2303.6,1695.6 L2305.0,1695.4 L2306.4,1698.9 L2307.8,1696.2 L2309.2,1699.3 L2310.6,1699.9 L2312.0,1697.8 L2313.4,1700.7 L2314.8,1701.4 L2316.2,1698.8 L2316.7,1698.2" fill="none" stroke="#00ff00" stroke-width="5.8" stroke-linejoin="round"/>
<path d="M212.2,24.6 L212.2,1755.2 L2316,1755.2" fill="none" stroke="#000" stroke-width="5.3" stroke-linejoin="miter" stroke-linecap="butt"/>
<path d="M522,1871 L408.5,1681" fill="none" stroke="#000" stroke-width="4.6" stroke-linecap="round" stroke-linejoin="round"/>
<path d="M438.5,1686 C428,1688 414,1685 407.2,1679 C406,1690 403,1701 398.5,1708.5" fill="none" stroke="#000" stroke-width="4.6" stroke-linecap="round" stroke-linejoin="round"/>
<path d="M871,1871 L642,1688" fill="none" stroke="#000" stroke-width="4.6" stroke-linecap="round" stroke-linejoin="round"/>
<path d="M671.5,1681.5 C662,1686 650,1687 640.6,1686.8 C644,1695 644.5,1707 643.4,1717" fill="none" stroke="#000" stroke-width="4.6" stroke-linecap="round" stroke-linejoin="round"/>
<g font-family="Liberation Serif, serif" fill="#000">
<text x="2019.51" y="547.30" font-size="115.00" textLength="83.08" lengthAdjust="spacingAndGlyphs">V</text>
<text x="2104.45" y="562.50" font-size="83.00" textLength="47.57" lengthAdjust="spacingAndGlyphs">3</text>
<text x="2162.59" y="547.30" font-size="115.00" textLength="72.20" lengthAdjust="spacingAndGlyphs">L</text>
<text x="2234.71" y="546.60" font-size="125.40" textLength="54.18" lengthAdjust="spacingAndGlyphs">*</text>
<text x="2000.35" y="784.50" font-size="115.00" textLength="307.22" lengthAdjust="spacingAndGlyphs">Initial</text>
<text x="1218.91" y="998.10" font-size="115.00" textLength="613.29" lengthAdjust="spacingAndGlyphs">Sublimation</text>
<text x="1875.04" y="998.10" font-size="115.00" textLength="431.93" lengthAdjust="spacingAndGlyphs">Residual</text>
<text x="1467.42" y="1252.10" font-size="115.00" textLength="173.66" lengthAdjust="spacingAndGlyphs">142</text>
<text x="1680.18" y="1252.10" font-size="115.00" textLength="46.95" lengthAdjust="spacingAndGlyphs">°</text>
<text x="1738.27" y="1252.10" font-size="115.00" textLength="88.34" lengthAdjust="spacingAndGlyphs">C</text>
<text x="1861.54" y="1252.10" font-size="115.00" textLength="232.58" lengthAdjust="spacingAndGlyphs">after</text>
<text x="2133.67" y="1252.10" font-size="115.00" textLength="61.97" lengthAdjust="spacingAndGlyphs">3</text>
<text x="2234.11" y="1252.10" font-size="115.00" textLength="60.69" lengthAdjust="spacingAndGlyphs">h</text>
<text x="1383.69" y="1473.00" font-size="115.00" textLength="179.30" lengthAdjust="spacingAndGlyphs">142</text>
<text x="1601.19" y="1473.00" font-size="115.00" textLength="51.04" lengthAdjust="spacingAndGlyphs">°</text>
<text x="1655.04" y="1473.00" font-size="115.00" textLength="90.44" lengthAdjust="spacingAndGlyphs">C</text>
<text x="1780.31" y="1473.00" font-size="115.00" textLength="193.40" lengthAdjust="spacingAndGlyphs">first</text>
<text x="2016.40" y="1473.00" font-size="115.00" textLength="282.07" lengthAdjust="spacingAndGlyphs">cryst.</text>
<text x="1383.69" y="1665.70" font-size="115.00" textLength="179.30" lengthAdjust="spacingAndGlyphs">152</text>
<text x="1601.19" y="1665.70" font-size="115.00" textLength="51.04" lengthAdjust="spacingAndGlyphs">°</text>
<text x="1655.04" y="1665.70" font-size="115.00" textLength="90.44" lengthAdjust="spacingAndGlyphs">C</text>
<text x="1780.31" y="1665.70" font-size="115.00" textLength="193.40" lengthAdjust="spacingAndGlyphs">first</text>
<text x="2016.40" y="1665.70" font-size="115.00" textLength="282.07" lengthAdjust="spacingAndGlyphs">cryst.</text>
<text x="340.29" y="1891.50" font-size="136.00" textLength="66.47" lengthAdjust="spacingAndGlyphs">6</text>
<text x="662.45" y="1891.50" font-size="136.00" textLength="70.19" lengthAdjust="spacingAndGlyphs">8</text>
<text x="950.26" y="1891.50" font-size="136.00" textLength="139.24" lengthAdjust="spacingAndGlyphs">10</text>
<text x="1274.26" y="1891.50" font-size="136.00" textLength="141.55" lengthAdjust="spacingAndGlyphs">12</text>
<text x="1599.72" y="1891.50" font-size="136.00" textLength="137.43" lengthAdjust="spacingAndGlyphs">14</text>
<text x="1921.90" y="1891.50" font-size="136.00" textLength="137.70" lengthAdjust="spacingAndGlyphs">16</text>
<text x="2246.77" y="1891.50" font-size="136.00" textLength="139.13" lengthAdjust="spacingAndGlyphs">18</text>
<text x="396.75" y="1987.70" font-size="100.00" textLength="66.82" lengthAdjust="spacingAndGlyphs">L</text>
<text x="459.43" y="1987.70" font-size="115.00" textLength="40.13" lengthAdjust="spacingAndGlyphs">-</text>
<text x="502.34" y="1987.70" font-size="115.00" textLength="186.92" lengthAdjust="spacingAndGlyphs">Leu</text>
<text x="756.89" y="1987.70" font-size="100.00" textLength="65.89" lengthAdjust="spacingAndGlyphs">L</text>
<text x="819.71" y="1987.70" font-size="115.00" textLength="39.36" lengthAdjust="spacingAndGlyphs">-</text>
<text x="862.72" y="1987.70" font-size="115.00" textLength="164.77" lengthAdjust="spacingAndGlyphs">Val</text>
<text x="954.31" y="2089.00" font-size="138.00" textLength="70.47" lengthAdjust="spacingAndGlyphs">2</text>
<text x="1023.75" y="2089.00" font-size="138.00" textLength="104.69" lengthAdjust="spacingAndGlyphs">Θ</text>
<text x="1128.36" y="2108.50" font-size="101.00" font-style="italic" textLength="79.53" lengthAdjust="spacingAndGlyphs">C</text>
<text x="1210.38" y="2108.50" font-size="101.00" font-style="italic" textLength="66.42" lengthAdjust="spacingAndGlyphs">u</text>
<text x="1287.07" y="2122.60" font-size="72.00" font-style="italic" textLength="61.00" lengthAdjust="spacingAndGlyphs">K</text>
<text x="1365.26" y="2122.60" font-size="72.00" font-style="italic" textLength="48.21" lengthAdjust="spacingAndGlyphs">α</text>
<text x="1444.00" y="2099.10" font-size="163.50" textLength="31.41" lengthAdjust="spacingAndGlyphs">[</text>
<text x="1474.53" y="2089.00" font-size="138.00" textLength="54.07" lengthAdjust="spacingAndGlyphs">°</text>
<text x="1535.59" y="2099.10" font-size="163.50" textLength="31.41" lengthAdjust="spacingAndGlyphs">]</text>
<g transform="rotate(-90)"><text x="-1030.35" y="129.80" font-size="138.00" font-style="italic" textLength="55.80" lengthAdjust="spacingAndGlyphs">I</text><text x="-969.61" y="159.50" font-size="200.00" textLength="42.61" lengthAdjust="spacingAndGlyphs">′</text><text x="-915.33" y="142.00" font-size="164.30" textLength="26.17" lengthAdjust="spacingAndGlyphs">[</text><text x="-875.45" y="130.00" font-size="138.00" textLength="80.20" lengthAdjust="spacingAndGlyphs">—</text><text x="-783.08" y="142.00" font-size="164.30" textLength="28.42" lengthAdjust="spacingAndGlyphs">]</text></g>
</g>
</svg>
</body></html>
